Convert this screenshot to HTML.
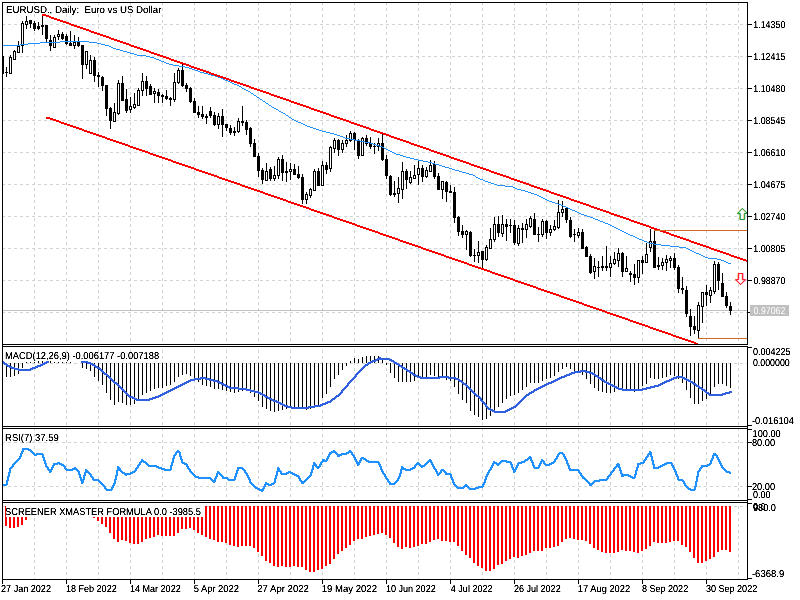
<!DOCTYPE html>
<html><head><meta charset="utf-8"><title>EURUSD Daily</title>
<style>html,body{margin:0;padding:0;background:#fff;overflow:hidden}svg{display:block}</style>
</head><body>
<svg width="800" height="600" viewBox="0 0 800 600" shape-rendering="crispEdges" font-family="'Liberation Sans', sans-serif">
<rect x="0" y="0" width="800" height="600" fill="#fff"/>
<g>
<line x1="34.5" y1="3" x2="34.5" y2="344" stroke="#d3d3d3" stroke-dasharray="3 3" stroke-dashoffset="1"/>
<line x1="66.5" y1="3" x2="66.5" y2="344" stroke="#d3d3d3" stroke-dasharray="3 3" stroke-dashoffset="1"/>
<line x1="98.5" y1="3" x2="98.5" y2="344" stroke="#d3d3d3" stroke-dasharray="3 3" stroke-dashoffset="1"/>
<line x1="130.5" y1="3" x2="130.5" y2="344" stroke="#d3d3d3" stroke-dasharray="3 3" stroke-dashoffset="1"/>
<line x1="162.5" y1="3" x2="162.5" y2="344" stroke="#d3d3d3" stroke-dasharray="3 3" stroke-dashoffset="1"/>
<line x1="194.5" y1="3" x2="194.5" y2="344" stroke="#d3d3d3" stroke-dasharray="3 3" stroke-dashoffset="1"/>
<line x1="226.5" y1="3" x2="226.5" y2="344" stroke="#d3d3d3" stroke-dasharray="3 3" stroke-dashoffset="1"/>
<line x1="258.5" y1="3" x2="258.5" y2="344" stroke="#d3d3d3" stroke-dasharray="3 3" stroke-dashoffset="1"/>
<line x1="290.5" y1="3" x2="290.5" y2="344" stroke="#d3d3d3" stroke-dasharray="3 3" stroke-dashoffset="1"/>
<line x1="322.5" y1="3" x2="322.5" y2="344" stroke="#d3d3d3" stroke-dasharray="3 3" stroke-dashoffset="1"/>
<line x1="354.5" y1="3" x2="354.5" y2="344" stroke="#d3d3d3" stroke-dasharray="3 3" stroke-dashoffset="1"/>
<line x1="386.5" y1="3" x2="386.5" y2="344" stroke="#d3d3d3" stroke-dasharray="3 3" stroke-dashoffset="1"/>
<line x1="418.5" y1="3" x2="418.5" y2="344" stroke="#d3d3d3" stroke-dasharray="3 3" stroke-dashoffset="1"/>
<line x1="450.5" y1="3" x2="450.5" y2="344" stroke="#d3d3d3" stroke-dasharray="3 3" stroke-dashoffset="1"/>
<line x1="482.5" y1="3" x2="482.5" y2="344" stroke="#d3d3d3" stroke-dasharray="3 3" stroke-dashoffset="1"/>
<line x1="514.5" y1="3" x2="514.5" y2="344" stroke="#d3d3d3" stroke-dasharray="3 3" stroke-dashoffset="1"/>
<line x1="546.5" y1="3" x2="546.5" y2="344" stroke="#d3d3d3" stroke-dasharray="3 3" stroke-dashoffset="1"/>
<line x1="578.5" y1="3" x2="578.5" y2="344" stroke="#d3d3d3" stroke-dasharray="3 3" stroke-dashoffset="1"/>
<line x1="610.5" y1="3" x2="610.5" y2="344" stroke="#d3d3d3" stroke-dasharray="3 3" stroke-dashoffset="1"/>
<line x1="642.5" y1="3" x2="642.5" y2="344" stroke="#d3d3d3" stroke-dasharray="3 3" stroke-dashoffset="1"/>
<line x1="674.5" y1="3" x2="674.5" y2="344" stroke="#d3d3d3" stroke-dasharray="3 3" stroke-dashoffset="1"/>
<line x1="706.5" y1="3" x2="706.5" y2="344" stroke="#d3d3d3" stroke-dasharray="3 3" stroke-dashoffset="1"/>
<line x1="738.5" y1="3" x2="738.5" y2="344" stroke="#d3d3d3" stroke-dasharray="3 3" stroke-dashoffset="1"/>
<line x1="34.5" y1="347" x2="34.5" y2="426" stroke="#d3d3d3" stroke-dasharray="3 3" stroke-dashoffset="3"/>
<line x1="66.5" y1="347" x2="66.5" y2="426" stroke="#d3d3d3" stroke-dasharray="3 3" stroke-dashoffset="3"/>
<line x1="98.5" y1="347" x2="98.5" y2="426" stroke="#d3d3d3" stroke-dasharray="3 3" stroke-dashoffset="3"/>
<line x1="130.5" y1="347" x2="130.5" y2="426" stroke="#d3d3d3" stroke-dasharray="3 3" stroke-dashoffset="3"/>
<line x1="162.5" y1="347" x2="162.5" y2="426" stroke="#d3d3d3" stroke-dasharray="3 3" stroke-dashoffset="3"/>
<line x1="194.5" y1="347" x2="194.5" y2="426" stroke="#d3d3d3" stroke-dasharray="3 3" stroke-dashoffset="3"/>
<line x1="226.5" y1="347" x2="226.5" y2="426" stroke="#d3d3d3" stroke-dasharray="3 3" stroke-dashoffset="3"/>
<line x1="258.5" y1="347" x2="258.5" y2="426" stroke="#d3d3d3" stroke-dasharray="3 3" stroke-dashoffset="3"/>
<line x1="290.5" y1="347" x2="290.5" y2="426" stroke="#d3d3d3" stroke-dasharray="3 3" stroke-dashoffset="3"/>
<line x1="322.5" y1="347" x2="322.5" y2="426" stroke="#d3d3d3" stroke-dasharray="3 3" stroke-dashoffset="3"/>
<line x1="354.5" y1="347" x2="354.5" y2="426" stroke="#d3d3d3" stroke-dasharray="3 3" stroke-dashoffset="3"/>
<line x1="386.5" y1="347" x2="386.5" y2="426" stroke="#d3d3d3" stroke-dasharray="3 3" stroke-dashoffset="3"/>
<line x1="418.5" y1="347" x2="418.5" y2="426" stroke="#d3d3d3" stroke-dasharray="3 3" stroke-dashoffset="3"/>
<line x1="450.5" y1="347" x2="450.5" y2="426" stroke="#d3d3d3" stroke-dasharray="3 3" stroke-dashoffset="3"/>
<line x1="482.5" y1="347" x2="482.5" y2="426" stroke="#d3d3d3" stroke-dasharray="3 3" stroke-dashoffset="3"/>
<line x1="514.5" y1="347" x2="514.5" y2="426" stroke="#d3d3d3" stroke-dasharray="3 3" stroke-dashoffset="3"/>
<line x1="546.5" y1="347" x2="546.5" y2="426" stroke="#d3d3d3" stroke-dasharray="3 3" stroke-dashoffset="3"/>
<line x1="578.5" y1="347" x2="578.5" y2="426" stroke="#d3d3d3" stroke-dasharray="3 3" stroke-dashoffset="3"/>
<line x1="610.5" y1="347" x2="610.5" y2="426" stroke="#d3d3d3" stroke-dasharray="3 3" stroke-dashoffset="3"/>
<line x1="642.5" y1="347" x2="642.5" y2="426" stroke="#d3d3d3" stroke-dasharray="3 3" stroke-dashoffset="3"/>
<line x1="674.5" y1="347" x2="674.5" y2="426" stroke="#d3d3d3" stroke-dasharray="3 3" stroke-dashoffset="3"/>
<line x1="706.5" y1="347" x2="706.5" y2="426" stroke="#d3d3d3" stroke-dasharray="3 3" stroke-dashoffset="3"/>
<line x1="738.5" y1="347" x2="738.5" y2="426" stroke="#d3d3d3" stroke-dasharray="3 3" stroke-dashoffset="3"/>
<line x1="34.5" y1="429" x2="34.5" y2="500" stroke="#d3d3d3" stroke-dasharray="3 3" stroke-dashoffset="1"/>
<line x1="66.5" y1="429" x2="66.5" y2="500" stroke="#d3d3d3" stroke-dasharray="3 3" stroke-dashoffset="1"/>
<line x1="98.5" y1="429" x2="98.5" y2="500" stroke="#d3d3d3" stroke-dasharray="3 3" stroke-dashoffset="1"/>
<line x1="130.5" y1="429" x2="130.5" y2="500" stroke="#d3d3d3" stroke-dasharray="3 3" stroke-dashoffset="1"/>
<line x1="162.5" y1="429" x2="162.5" y2="500" stroke="#d3d3d3" stroke-dasharray="3 3" stroke-dashoffset="1"/>
<line x1="194.5" y1="429" x2="194.5" y2="500" stroke="#d3d3d3" stroke-dasharray="3 3" stroke-dashoffset="1"/>
<line x1="226.5" y1="429" x2="226.5" y2="500" stroke="#d3d3d3" stroke-dasharray="3 3" stroke-dashoffset="1"/>
<line x1="258.5" y1="429" x2="258.5" y2="500" stroke="#d3d3d3" stroke-dasharray="3 3" stroke-dashoffset="1"/>
<line x1="290.5" y1="429" x2="290.5" y2="500" stroke="#d3d3d3" stroke-dasharray="3 3" stroke-dashoffset="1"/>
<line x1="322.5" y1="429" x2="322.5" y2="500" stroke="#d3d3d3" stroke-dasharray="3 3" stroke-dashoffset="1"/>
<line x1="354.5" y1="429" x2="354.5" y2="500" stroke="#d3d3d3" stroke-dasharray="3 3" stroke-dashoffset="1"/>
<line x1="386.5" y1="429" x2="386.5" y2="500" stroke="#d3d3d3" stroke-dasharray="3 3" stroke-dashoffset="1"/>
<line x1="418.5" y1="429" x2="418.5" y2="500" stroke="#d3d3d3" stroke-dasharray="3 3" stroke-dashoffset="1"/>
<line x1="450.5" y1="429" x2="450.5" y2="500" stroke="#d3d3d3" stroke-dasharray="3 3" stroke-dashoffset="1"/>
<line x1="482.5" y1="429" x2="482.5" y2="500" stroke="#d3d3d3" stroke-dasharray="3 3" stroke-dashoffset="1"/>
<line x1="514.5" y1="429" x2="514.5" y2="500" stroke="#d3d3d3" stroke-dasharray="3 3" stroke-dashoffset="1"/>
<line x1="546.5" y1="429" x2="546.5" y2="500" stroke="#d3d3d3" stroke-dasharray="3 3" stroke-dashoffset="1"/>
<line x1="578.5" y1="429" x2="578.5" y2="500" stroke="#d3d3d3" stroke-dasharray="3 3" stroke-dashoffset="1"/>
<line x1="610.5" y1="429" x2="610.5" y2="500" stroke="#d3d3d3" stroke-dasharray="3 3" stroke-dashoffset="1"/>
<line x1="642.5" y1="429" x2="642.5" y2="500" stroke="#d3d3d3" stroke-dasharray="3 3" stroke-dashoffset="1"/>
<line x1="674.5" y1="429" x2="674.5" y2="500" stroke="#d3d3d3" stroke-dasharray="3 3" stroke-dashoffset="1"/>
<line x1="706.5" y1="429" x2="706.5" y2="500" stroke="#d3d3d3" stroke-dasharray="3 3" stroke-dashoffset="1"/>
<line x1="738.5" y1="429" x2="738.5" y2="500" stroke="#d3d3d3" stroke-dasharray="3 3" stroke-dashoffset="1"/>
<line x1="34.5" y1="503" x2="34.5" y2="579" stroke="#d3d3d3" stroke-dasharray="3 3" stroke-dashoffset="3"/>
<line x1="66.5" y1="503" x2="66.5" y2="579" stroke="#d3d3d3" stroke-dasharray="3 3" stroke-dashoffset="3"/>
<line x1="98.5" y1="503" x2="98.5" y2="579" stroke="#d3d3d3" stroke-dasharray="3 3" stroke-dashoffset="3"/>
<line x1="130.5" y1="503" x2="130.5" y2="579" stroke="#d3d3d3" stroke-dasharray="3 3" stroke-dashoffset="3"/>
<line x1="162.5" y1="503" x2="162.5" y2="579" stroke="#d3d3d3" stroke-dasharray="3 3" stroke-dashoffset="3"/>
<line x1="194.5" y1="503" x2="194.5" y2="579" stroke="#d3d3d3" stroke-dasharray="3 3" stroke-dashoffset="3"/>
<line x1="226.5" y1="503" x2="226.5" y2="579" stroke="#d3d3d3" stroke-dasharray="3 3" stroke-dashoffset="3"/>
<line x1="258.5" y1="503" x2="258.5" y2="579" stroke="#d3d3d3" stroke-dasharray="3 3" stroke-dashoffset="3"/>
<line x1="290.5" y1="503" x2="290.5" y2="579" stroke="#d3d3d3" stroke-dasharray="3 3" stroke-dashoffset="3"/>
<line x1="322.5" y1="503" x2="322.5" y2="579" stroke="#d3d3d3" stroke-dasharray="3 3" stroke-dashoffset="3"/>
<line x1="354.5" y1="503" x2="354.5" y2="579" stroke="#d3d3d3" stroke-dasharray="3 3" stroke-dashoffset="3"/>
<line x1="386.5" y1="503" x2="386.5" y2="579" stroke="#d3d3d3" stroke-dasharray="3 3" stroke-dashoffset="3"/>
<line x1="418.5" y1="503" x2="418.5" y2="579" stroke="#d3d3d3" stroke-dasharray="3 3" stroke-dashoffset="3"/>
<line x1="450.5" y1="503" x2="450.5" y2="579" stroke="#d3d3d3" stroke-dasharray="3 3" stroke-dashoffset="3"/>
<line x1="482.5" y1="503" x2="482.5" y2="579" stroke="#d3d3d3" stroke-dasharray="3 3" stroke-dashoffset="3"/>
<line x1="514.5" y1="503" x2="514.5" y2="579" stroke="#d3d3d3" stroke-dasharray="3 3" stroke-dashoffset="3"/>
<line x1="546.5" y1="503" x2="546.5" y2="579" stroke="#d3d3d3" stroke-dasharray="3 3" stroke-dashoffset="3"/>
<line x1="578.5" y1="503" x2="578.5" y2="579" stroke="#d3d3d3" stroke-dasharray="3 3" stroke-dashoffset="3"/>
<line x1="610.5" y1="503" x2="610.5" y2="579" stroke="#d3d3d3" stroke-dasharray="3 3" stroke-dashoffset="3"/>
<line x1="642.5" y1="503" x2="642.5" y2="579" stroke="#d3d3d3" stroke-dasharray="3 3" stroke-dashoffset="3"/>
<line x1="674.5" y1="503" x2="674.5" y2="579" stroke="#d3d3d3" stroke-dasharray="3 3" stroke-dashoffset="3"/>
<line x1="706.5" y1="503" x2="706.5" y2="579" stroke="#d3d3d3" stroke-dasharray="3 3" stroke-dashoffset="3"/>
<line x1="738.5" y1="503" x2="738.5" y2="579" stroke="#d3d3d3" stroke-dasharray="3 3" stroke-dashoffset="3"/>
<line x1="2" y1="24.5" x2="747" y2="24.5" stroke="#d3d3d3" stroke-dasharray="3 3" stroke-dashoffset="0"/>
<line x1="2" y1="56.5" x2="747" y2="56.5" stroke="#d3d3d3" stroke-dasharray="3 3" stroke-dashoffset="0"/>
<line x1="2" y1="88.5" x2="747" y2="88.5" stroke="#d3d3d3" stroke-dasharray="3 3" stroke-dashoffset="0"/>
<line x1="2" y1="120.5" x2="747" y2="120.5" stroke="#d3d3d3" stroke-dasharray="3 3" stroke-dashoffset="0"/>
<line x1="2" y1="152.5" x2="747" y2="152.5" stroke="#d3d3d3" stroke-dasharray="3 3" stroke-dashoffset="0"/>
<line x1="2" y1="184.5" x2="747" y2="184.5" stroke="#d3d3d3" stroke-dasharray="3 3" stroke-dashoffset="0"/>
<line x1="2" y1="216.5" x2="747" y2="216.5" stroke="#d3d3d3" stroke-dasharray="3 3" stroke-dashoffset="0"/>
<line x1="2" y1="248.5" x2="747" y2="248.5" stroke="#d3d3d3" stroke-dasharray="3 3" stroke-dashoffset="0"/>
<line x1="2" y1="280.5" x2="747" y2="280.5" stroke="#d3d3d3" stroke-dasharray="3 3" stroke-dashoffset="0"/>
<line x1="2" y1="312.5" x2="747" y2="312.5" stroke="#d3d3d3" stroke-dasharray="3 3" stroke-dashoffset="0"/>
<line x1="2" y1="363.5" x2="747" y2="363.5" stroke="#d3d3d3" stroke-dasharray="3 3" stroke-dashoffset="0"/>
<line x1="2" y1="442.5" x2="747" y2="442.5" stroke="#d3d3d3" stroke-dasharray="3 3" stroke-dashoffset="0"/>
<line x1="2" y1="486.5" x2="747" y2="486.5" stroke="#d3d3d3" stroke-dasharray="3 3" stroke-dashoffset="0"/>
<line x1="2" y1="506.5" x2="747" y2="506.5" stroke="#d3d3d3" stroke-dasharray="3 3" stroke-dashoffset="0"/>
</g>
<line x1="3" y1="310.5" x2="747" y2="310.5" stroke="#c0c0c0"/>
<g fill="#000">
<rect x="2" y="56" width="1" height="18"/>
<rect x="2" y="56" width="2" height="18"/>
<rect x="6" y="67" width="1" height="10"/>
<rect x="5" y="72" width="3" height="1"/>
<rect x="10" y="55" width="1" height="19"/>
<rect x="9" y="57" width="3" height="17"/>
<rect x="10" y="58" width="1" height="15" fill="#fff"/>
<rect x="14" y="50" width="1" height="10"/>
<rect x="13" y="51" width="3" height="9"/>
<rect x="14" y="52" width="1" height="7" fill="#fff"/>
<rect x="18" y="41" width="1" height="12"/>
<rect x="17" y="46" width="3" height="7"/>
<rect x="18" y="47" width="1" height="5" fill="#fff"/>
<rect x="22" y="21" width="1" height="32"/>
<rect x="21" y="23" width="3" height="23"/>
<rect x="22" y="24" width="1" height="21" fill="#fff"/>
<rect x="26" y="16" width="1" height="13"/>
<rect x="25" y="21" width="3" height="4"/>
<rect x="26" y="22" width="1" height="2" fill="#fff"/>
<rect x="30" y="20" width="1" height="8"/>
<rect x="29" y="20" width="3" height="4"/>
<rect x="34" y="21" width="1" height="10"/>
<rect x="33" y="23" width="3" height="6"/>
<rect x="38" y="22" width="1" height="8"/>
<rect x="37" y="26" width="3" height="3"/>
<rect x="42" y="14" width="1" height="21"/>
<rect x="41" y="25" width="3" height="2"/>
<rect x="46" y="25" width="1" height="18"/>
<rect x="45" y="25" width="3" height="14"/>
<rect x="50" y="35" width="1" height="16"/>
<rect x="49" y="40" width="3" height="6"/>
<rect x="54" y="35" width="1" height="13"/>
<rect x="53" y="37" width="3" height="11"/>
<rect x="54" y="38" width="1" height="9" fill="#fff"/>
<rect x="58" y="30" width="1" height="10"/>
<rect x="57" y="34" width="3" height="3"/>
<rect x="58" y="35" width="1" height="1" fill="#fff"/>
<rect x="62" y="32" width="1" height="8"/>
<rect x="61" y="34" width="3" height="5"/>
<rect x="66" y="34" width="1" height="11"/>
<rect x="65" y="36" width="3" height="8"/>
<rect x="70" y="31" width="1" height="15"/>
<rect x="69" y="43" width="3" height="3"/>
<rect x="74" y="35" width="1" height="14"/>
<rect x="73" y="42" width="3" height="4"/>
<rect x="74" y="43" width="1" height="2" fill="#fff"/>
<rect x="78" y="37" width="1" height="10"/>
<rect x="77" y="42" width="3" height="4"/>
<rect x="82" y="45" width="1" height="34"/>
<rect x="81" y="45" width="3" height="20"/>
<rect x="86" y="51" width="1" height="18"/>
<rect x="85" y="51" width="3" height="14"/>
<rect x="86" y="52" width="1" height="12" fill="#fff"/>
<rect x="90" y="55" width="1" height="19"/>
<rect x="89" y="60" width="3" height="14"/>
<rect x="90" y="61" width="1" height="12" fill="#fff"/>
<rect x="94" y="57" width="1" height="25"/>
<rect x="93" y="60" width="3" height="16"/>
<rect x="98" y="72" width="1" height="15"/>
<rect x="97" y="75" width="3" height="2"/>
<rect x="102" y="76" width="1" height="15"/>
<rect x="101" y="77" width="3" height="9"/>
<rect x="106" y="85" width="1" height="31"/>
<rect x="105" y="85" width="3" height="24"/>
<rect x="110" y="107" width="1" height="22"/>
<rect x="109" y="108" width="3" height="13"/>
<rect x="114" y="103" width="1" height="19"/>
<rect x="113" y="112" width="3" height="10"/>
<rect x="114" y="113" width="1" height="8" fill="#fff"/>
<rect x="118" y="80" width="1" height="35"/>
<rect x="117" y="83" width="3" height="31"/>
<rect x="118" y="84" width="1" height="29" fill="#fff"/>
<rect x="122" y="76" width="1" height="25"/>
<rect x="121" y="83" width="3" height="18"/>
<rect x="126" y="89" width="1" height="24"/>
<rect x="125" y="99" width="3" height="12"/>
<rect x="130" y="97" width="1" height="16"/>
<rect x="129" y="106" width="3" height="4"/>
<rect x="130" y="107" width="1" height="2" fill="#fff"/>
<rect x="134" y="93" width="1" height="16"/>
<rect x="133" y="104" width="3" height="4"/>
<rect x="134" y="105" width="1" height="2" fill="#fff"/>
<rect x="138" y="88" width="1" height="18"/>
<rect x="137" y="90" width="3" height="16"/>
<rect x="138" y="91" width="1" height="14" fill="#fff"/>
<rect x="142" y="73" width="1" height="23"/>
<rect x="141" y="81" width="3" height="10"/>
<rect x="142" y="82" width="1" height="8" fill="#fff"/>
<rect x="146" y="76" width="1" height="20"/>
<rect x="145" y="81" width="3" height="8"/>
<rect x="150" y="84" width="1" height="11"/>
<rect x="149" y="86" width="3" height="9"/>
<rect x="154" y="88" width="1" height="15"/>
<rect x="153" y="91" width="3" height="3"/>
<rect x="154" y="92" width="1" height="1" fill="#fff"/>
<rect x="158" y="89" width="1" height="14"/>
<rect x="157" y="92" width="3" height="4"/>
<rect x="162" y="94" width="1" height="9"/>
<rect x="161" y="95" width="3" height="2"/>
<rect x="166" y="90" width="1" height="10"/>
<rect x="165" y="96" width="3" height="3"/>
<rect x="170" y="97" width="1" height="9"/>
<rect x="169" y="98" width="3" height="2"/>
<rect x="174" y="73" width="1" height="29"/>
<rect x="173" y="82" width="3" height="18"/>
<rect x="174" y="83" width="1" height="16" fill="#fff"/>
<rect x="178" y="68" width="1" height="16"/>
<rect x="177" y="70" width="3" height="13"/>
<rect x="178" y="71" width="1" height="11" fill="#fff"/>
<rect x="182" y="64" width="1" height="23"/>
<rect x="181" y="70" width="3" height="16"/>
<rect x="186" y="83" width="1" height="9"/>
<rect x="185" y="85" width="3" height="4"/>
<rect x="190" y="87" width="1" height="16"/>
<rect x="189" y="88" width="3" height="14"/>
<rect x="194" y="98" width="1" height="15"/>
<rect x="193" y="101" width="3" height="12"/>
<rect x="198" y="106" width="1" height="12"/>
<rect x="197" y="112" width="3" height="3"/>
<rect x="202" y="106" width="1" height="13"/>
<rect x="201" y="114" width="3" height="3"/>
<rect x="206" y="114" width="1" height="10"/>
<rect x="205" y="116" width="3" height="2"/>
<rect x="210" y="107" width="1" height="11"/>
<rect x="209" y="111" width="3" height="5"/>
<rect x="214" y="112" width="1" height="14"/>
<rect x="213" y="115" width="3" height="10"/>
<rect x="218" y="113" width="1" height="16"/>
<rect x="217" y="116" width="3" height="9"/>
<rect x="218" y="117" width="1" height="7" fill="#fff"/>
<rect x="222" y="109" width="1" height="28"/>
<rect x="221" y="116" width="3" height="9"/>
<rect x="226" y="124" width="1" height="7"/>
<rect x="225" y="124" width="3" height="4"/>
<rect x="230" y="125" width="1" height="10"/>
<rect x="229" y="128" width="3" height="5"/>
<rect x="234" y="127" width="1" height="9"/>
<rect x="233" y="131" width="3" height="2"/>
<rect x="238" y="118" width="1" height="15"/>
<rect x="237" y="121" width="3" height="11"/>
<rect x="238" y="122" width="1" height="9" fill="#fff"/>
<rect x="242" y="106" width="1" height="20"/>
<rect x="241" y="121" width="3" height="2"/>
<rect x="246" y="120" width="1" height="15"/>
<rect x="245" y="122" width="3" height="8"/>
<rect x="250" y="127" width="1" height="20"/>
<rect x="249" y="128" width="3" height="16"/>
<rect x="254" y="139" width="1" height="18"/>
<rect x="253" y="143" width="3" height="14"/>
<rect x="258" y="153" width="1" height="24"/>
<rect x="257" y="156" width="3" height="15"/>
<rect x="262" y="168" width="1" height="16"/>
<rect x="261" y="170" width="3" height="10"/>
<rect x="266" y="163" width="1" height="18"/>
<rect x="265" y="171" width="3" height="10"/>
<rect x="266" y="172" width="1" height="8" fill="#fff"/>
<rect x="270" y="167" width="1" height="14"/>
<rect x="269" y="169" width="3" height="10"/>
<rect x="274" y="166" width="1" height="15"/>
<rect x="273" y="175" width="3" height="4"/>
<rect x="274" y="176" width="1" height="2" fill="#fff"/>
<rect x="278" y="157" width="1" height="22"/>
<rect x="277" y="159" width="3" height="17"/>
<rect x="278" y="160" width="1" height="15" fill="#fff"/>
<rect x="282" y="155" width="1" height="26"/>
<rect x="281" y="159" width="3" height="14"/>
<rect x="286" y="162" width="1" height="20"/>
<rect x="285" y="171" width="3" height="2"/>
<rect x="290" y="163" width="1" height="17"/>
<rect x="289" y="169" width="3" height="3"/>
<rect x="290" y="170" width="1" height="1" fill="#fff"/>
<rect x="294" y="164" width="1" height="11"/>
<rect x="293" y="169" width="3" height="6"/>
<rect x="298" y="166" width="1" height="13"/>
<rect x="297" y="174" width="3" height="4"/>
<rect x="302" y="174" width="1" height="30"/>
<rect x="301" y="177" width="3" height="23"/>
<rect x="306" y="192" width="1" height="12"/>
<rect x="305" y="194" width="3" height="6"/>
<rect x="306" y="195" width="1" height="4" fill="#fff"/>
<rect x="310" y="188" width="1" height="10"/>
<rect x="309" y="189" width="3" height="7"/>
<rect x="310" y="190" width="1" height="5" fill="#fff"/>
<rect x="314" y="169" width="1" height="22"/>
<rect x="313" y="171" width="3" height="20"/>
<rect x="314" y="172" width="1" height="18" fill="#fff"/>
<rect x="318" y="168" width="1" height="18"/>
<rect x="317" y="171" width="3" height="15"/>
<rect x="322" y="161" width="1" height="25"/>
<rect x="321" y="165" width="3" height="21"/>
<rect x="322" y="166" width="1" height="19" fill="#fff"/>
<rect x="326" y="162" width="1" height="12"/>
<rect x="325" y="165" width="3" height="5"/>
<rect x="330" y="146" width="1" height="26"/>
<rect x="329" y="147" width="3" height="22"/>
<rect x="330" y="148" width="1" height="20" fill="#fff"/>
<rect x="334" y="138" width="1" height="15"/>
<rect x="333" y="140" width="3" height="9"/>
<rect x="334" y="141" width="1" height="7" fill="#fff"/>
<rect x="338" y="139" width="1" height="17"/>
<rect x="337" y="140" width="3" height="10"/>
<rect x="342" y="140" width="1" height="13"/>
<rect x="341" y="143" width="3" height="7"/>
<rect x="342" y="144" width="1" height="5" fill="#fff"/>
<rect x="346" y="135" width="1" height="12"/>
<rect x="345" y="140" width="3" height="4"/>
<rect x="346" y="141" width="1" height="2" fill="#fff"/>
<rect x="350" y="131" width="1" height="11"/>
<rect x="349" y="133" width="3" height="8"/>
<rect x="350" y="134" width="1" height="6" fill="#fff"/>
<rect x="354" y="132" width="1" height="18"/>
<rect x="353" y="133" width="3" height="7"/>
<rect x="358" y="139" width="1" height="20"/>
<rect x="357" y="140" width="3" height="16"/>
<rect x="362" y="137" width="1" height="19"/>
<rect x="361" y="138" width="3" height="18"/>
<rect x="362" y="139" width="1" height="16" fill="#fff"/>
<rect x="366" y="135" width="1" height="11"/>
<rect x="365" y="138" width="3" height="6"/>
<rect x="370" y="137" width="1" height="12"/>
<rect x="369" y="143" width="3" height="4"/>
<rect x="374" y="143" width="1" height="11"/>
<rect x="373" y="146" width="3" height="1"/>
<rect x="378" y="138" width="1" height="13"/>
<rect x="377" y="143" width="3" height="4"/>
<rect x="378" y="144" width="1" height="2" fill="#fff"/>
<rect x="382" y="134" width="1" height="27"/>
<rect x="381" y="143" width="3" height="17"/>
<rect x="386" y="155" width="1" height="24"/>
<rect x="385" y="159" width="3" height="17"/>
<rect x="390" y="175" width="1" height="21"/>
<rect x="389" y="176" width="3" height="19"/>
<rect x="394" y="181" width="1" height="16"/>
<rect x="393" y="193" width="3" height="2"/>
<rect x="398" y="177" width="1" height="26"/>
<rect x="397" y="188" width="3" height="6"/>
<rect x="398" y="189" width="1" height="4" fill="#fff"/>
<rect x="402" y="162" width="1" height="37"/>
<rect x="401" y="171" width="3" height="19"/>
<rect x="402" y="172" width="1" height="17" fill="#fff"/>
<rect x="406" y="169" width="1" height="20"/>
<rect x="405" y="171" width="3" height="9"/>
<rect x="410" y="171" width="1" height="13"/>
<rect x="409" y="177" width="3" height="6"/>
<rect x="410" y="178" width="1" height="4" fill="#fff"/>
<rect x="414" y="165" width="1" height="14"/>
<rect x="413" y="175" width="3" height="4"/>
<rect x="414" y="176" width="1" height="2" fill="#fff"/>
<rect x="418" y="160" width="1" height="25"/>
<rect x="417" y="168" width="3" height="7"/>
<rect x="418" y="169" width="1" height="5" fill="#fff"/>
<rect x="422" y="165" width="1" height="17"/>
<rect x="421" y="168" width="3" height="9"/>
<rect x="426" y="167" width="1" height="11"/>
<rect x="425" y="170" width="3" height="7"/>
<rect x="426" y="171" width="1" height="5" fill="#fff"/>
<rect x="430" y="160" width="1" height="12"/>
<rect x="429" y="165" width="3" height="7"/>
<rect x="430" y="166" width="1" height="5" fill="#fff"/>
<rect x="434" y="161" width="1" height="18"/>
<rect x="433" y="164" width="3" height="13"/>
<rect x="438" y="173" width="1" height="17"/>
<rect x="437" y="176" width="3" height="14"/>
<rect x="442" y="181" width="1" height="18"/>
<rect x="441" y="181" width="3" height="9"/>
<rect x="442" y="182" width="1" height="7" fill="#fff"/>
<rect x="446" y="181" width="1" height="21"/>
<rect x="445" y="182" width="3" height="10"/>
<rect x="450" y="185" width="1" height="8"/>
<rect x="449" y="191" width="3" height="2"/>
<rect x="454" y="187" width="1" height="36"/>
<rect x="453" y="192" width="3" height="26"/>
<rect x="458" y="216" width="1" height="20"/>
<rect x="457" y="217" width="3" height="15"/>
<rect x="462" y="225" width="1" height="13"/>
<rect x="461" y="231" width="3" height="4"/>
<rect x="466" y="230" width="1" height="20"/>
<rect x="465" y="231" width="3" height="4"/>
<rect x="466" y="232" width="1" height="2" fill="#fff"/>
<rect x="470" y="231" width="1" height="26"/>
<rect x="469" y="232" width="3" height="24"/>
<rect x="474" y="249" width="1" height="13"/>
<rect x="473" y="255" width="3" height="1"/>
<rect x="478" y="241" width="1" height="22"/>
<rect x="477" y="252" width="3" height="4"/>
<rect x="478" y="253" width="1" height="2" fill="#fff"/>
<rect x="482" y="251" width="1" height="18"/>
<rect x="481" y="251" width="3" height="9"/>
<rect x="486" y="245" width="1" height="16"/>
<rect x="485" y="247" width="3" height="13"/>
<rect x="486" y="248" width="1" height="11" fill="#fff"/>
<rect x="490" y="228" width="1" height="21"/>
<rect x="489" y="239" width="3" height="10"/>
<rect x="490" y="240" width="1" height="8" fill="#fff"/>
<rect x="494" y="217" width="1" height="25"/>
<rect x="493" y="224" width="3" height="16"/>
<rect x="494" y="225" width="1" height="14" fill="#fff"/>
<rect x="498" y="216" width="1" height="21"/>
<rect x="497" y="224" width="3" height="9"/>
<rect x="502" y="215" width="1" height="22"/>
<rect x="501" y="224" width="3" height="10"/>
<rect x="502" y="225" width="1" height="8" fill="#fff"/>
<rect x="506" y="219" width="1" height="22"/>
<rect x="505" y="224" width="3" height="3"/>
<rect x="510" y="219" width="1" height="14"/>
<rect x="509" y="225" width="3" height="1"/>
<rect x="514" y="220" width="1" height="25"/>
<rect x="513" y="225" width="3" height="18"/>
<rect x="518" y="225" width="1" height="21"/>
<rect x="517" y="228" width="3" height="16"/>
<rect x="518" y="229" width="1" height="14" fill="#fff"/>
<rect x="522" y="223" width="1" height="20"/>
<rect x="521" y="228" width="3" height="2"/>
<rect x="526" y="219" width="1" height="19"/>
<rect x="525" y="224" width="3" height="6"/>
<rect x="526" y="225" width="1" height="4" fill="#fff"/>
<rect x="530" y="216" width="1" height="12"/>
<rect x="529" y="218" width="3" height="9"/>
<rect x="530" y="219" width="1" height="7" fill="#fff"/>
<rect x="534" y="213" width="1" height="22"/>
<rect x="533" y="219" width="3" height="16"/>
<rect x="538" y="227" width="1" height="15"/>
<rect x="537" y="234" width="3" height="1"/>
<rect x="542" y="219" width="1" height="18"/>
<rect x="541" y="221" width="3" height="14"/>
<rect x="542" y="222" width="1" height="12" fill="#fff"/>
<rect x="546" y="220" width="1" height="19"/>
<rect x="545" y="221" width="3" height="12"/>
<rect x="550" y="225" width="1" height="11"/>
<rect x="549" y="229" width="3" height="4"/>
<rect x="550" y="230" width="1" height="2" fill="#fff"/>
<rect x="554" y="220" width="1" height="11"/>
<rect x="553" y="226" width="3" height="4"/>
<rect x="554" y="227" width="1" height="2" fill="#fff"/>
<rect x="558" y="200" width="1" height="29"/>
<rect x="557" y="212" width="3" height="16"/>
<rect x="558" y="213" width="1" height="14" fill="#fff"/>
<rect x="562" y="201" width="1" height="16"/>
<rect x="561" y="209" width="3" height="4"/>
<rect x="562" y="210" width="1" height="2" fill="#fff"/>
<rect x="566" y="207" width="1" height="16"/>
<rect x="565" y="208" width="3" height="12"/>
<rect x="570" y="217" width="1" height="21"/>
<rect x="569" y="220" width="3" height="17"/>
<rect x="574" y="229" width="1" height="13"/>
<rect x="573" y="234" width="3" height="1"/>
<rect x="578" y="228" width="1" height="10"/>
<rect x="577" y="232" width="3" height="4"/>
<rect x="578" y="233" width="1" height="2" fill="#fff"/>
<rect x="582" y="229" width="1" height="20"/>
<rect x="581" y="232" width="3" height="17"/>
<rect x="586" y="246" width="1" height="11"/>
<rect x="585" y="247" width="3" height="10"/>
<rect x="590" y="254" width="1" height="20"/>
<rect x="589" y="256" width="3" height="17"/>
<rect x="594" y="258" width="1" height="21"/>
<rect x="593" y="266" width="3" height="6"/>
<rect x="594" y="267" width="1" height="4" fill="#fff"/>
<rect x="598" y="261" width="1" height="16"/>
<rect x="597" y="267" width="3" height="1"/>
<rect x="602" y="256" width="1" height="15"/>
<rect x="601" y="266" width="3" height="2"/>
<rect x="606" y="246" width="1" height="25"/>
<rect x="605" y="266" width="3" height="2"/>
<rect x="610" y="256" width="1" height="21"/>
<rect x="609" y="263" width="3" height="5"/>
<rect x="610" y="264" width="1" height="3" fill="#fff"/>
<rect x="614" y="252" width="1" height="13"/>
<rect x="613" y="259" width="3" height="5"/>
<rect x="614" y="260" width="1" height="3" fill="#fff"/>
<rect x="618" y="248" width="1" height="19"/>
<rect x="617" y="253" width="3" height="8"/>
<rect x="618" y="254" width="1" height="6" fill="#fff"/>
<rect x="622" y="252" width="1" height="25"/>
<rect x="621" y="253" width="3" height="19"/>
<rect x="626" y="256" width="1" height="16"/>
<rect x="625" y="268" width="3" height="4"/>
<rect x="626" y="269" width="1" height="2" fill="#fff"/>
<rect x="630" y="271" width="1" height="11"/>
<rect x="629" y="273" width="3" height="2"/>
<rect x="634" y="264" width="1" height="21"/>
<rect x="633" y="274" width="3" height="4"/>
<rect x="638" y="260" width="1" height="23"/>
<rect x="637" y="260" width="3" height="18"/>
<rect x="638" y="261" width="1" height="16" fill="#fff"/>
<rect x="642" y="256" width="1" height="18"/>
<rect x="641" y="260" width="3" height="3"/>
<rect x="646" y="243" width="1" height="20"/>
<rect x="645" y="254" width="3" height="9"/>
<rect x="646" y="255" width="1" height="7" fill="#fff"/>
<rect x="650" y="229" width="1" height="23"/>
<rect x="649" y="241" width="3" height="7"/>
<rect x="650" y="242" width="1" height="5" fill="#fff"/>
<rect x="654" y="230" width="1" height="38"/>
<rect x="653" y="241" width="3" height="27"/>
<rect x="658" y="257" width="1" height="13"/>
<rect x="657" y="265" width="3" height="2"/>
<rect x="662" y="258" width="1" height="12"/>
<rect x="661" y="262" width="3" height="4"/>
<rect x="662" y="263" width="1" height="2" fill="#fff"/>
<rect x="666" y="255" width="1" height="16"/>
<rect x="665" y="259" width="3" height="4"/>
<rect x="666" y="260" width="1" height="2" fill="#fff"/>
<rect x="670" y="256" width="1" height="12"/>
<rect x="669" y="258" width="3" height="3"/>
<rect x="670" y="259" width="1" height="1" fill="#fff"/>
<rect x="674" y="253" width="1" height="17"/>
<rect x="673" y="258" width="3" height="10"/>
<rect x="678" y="265" width="1" height="28"/>
<rect x="677" y="267" width="3" height="22"/>
<rect x="682" y="277" width="1" height="17"/>
<rect x="681" y="288" width="3" height="2"/>
<rect x="686" y="286" width="1" height="31"/>
<rect x="685" y="290" width="3" height="24"/>
<rect x="690" y="309" width="1" height="27"/>
<rect x="689" y="316" width="3" height="11"/>
<rect x="694" y="316" width="1" height="18"/>
<rect x="693" y="326" width="3" height="4"/>
<rect x="698" y="302" width="1" height="37"/>
<rect x="697" y="305" width="3" height="26"/>
<rect x="698" y="306" width="1" height="24" fill="#fff"/>
<rect x="702" y="292" width="1" height="31"/>
<rect x="701" y="292" width="3" height="15"/>
<rect x="702" y="293" width="1" height="13" fill="#fff"/>
<rect x="706" y="285" width="1" height="21"/>
<rect x="705" y="292" width="3" height="3"/>
<rect x="710" y="287" width="1" height="16"/>
<rect x="709" y="290" width="3" height="6"/>
<rect x="710" y="291" width="1" height="4" fill="#fff"/>
<rect x="714" y="261" width="1" height="33"/>
<rect x="713" y="264" width="3" height="28"/>
<rect x="714" y="265" width="1" height="26" fill="#fff"/>
<rect x="718" y="262" width="1" height="28"/>
<rect x="717" y="264" width="3" height="17"/>
<rect x="722" y="273" width="1" height="24"/>
<rect x="721" y="283" width="3" height="14"/>
<rect x="726" y="292" width="1" height="16"/>
<rect x="725" y="296" width="3" height="10"/>
<rect x="730" y="302" width="1" height="13"/>
<rect x="729" y="306" width="3" height="5"/>
</g>
<g fill="#1e90ff">
<rect x="3" y="45" width="17" height="1"/>
<rect x="20" y="44" width="8" height="1"/>
<rect x="28" y="43" width="12" height="1"/>
<rect x="40" y="42" width="20" height="1"/>
<rect x="60" y="41" width="29" height="1"/>
<rect x="89" y="42" width="8" height="1"/>
<rect x="97" y="43" width="4" height="1"/>
<rect x="101" y="44" width="4" height="1"/>
<rect x="105" y="45" width="4" height="1"/>
<rect x="109" y="46" width="2" height="1"/>
<rect x="111" y="47" width="2" height="1"/>
<rect x="113" y="48" width="3" height="1"/>
<rect x="116" y="49" width="4" height="1"/>
<rect x="120" y="50" width="3" height="1"/>
<rect x="123" y="51" width="4" height="1"/>
<rect x="127" y="52" width="3" height="1"/>
<rect x="130" y="53" width="4" height="1"/>
<rect x="134" y="54" width="3" height="1"/>
<rect x="137" y="55" width="9" height="1"/>
<rect x="146" y="56" width="4" height="1"/>
<rect x="150" y="57" width="4" height="1"/>
<rect x="154" y="58" width="2" height="1"/>
<rect x="156" y="59" width="3" height="1"/>
<rect x="159" y="60" width="2" height="1"/>
<rect x="161" y="61" width="3" height="1"/>
<rect x="164" y="62" width="2" height="1"/>
<rect x="166" y="63" width="3" height="1"/>
<rect x="169" y="64" width="4" height="1"/>
<rect x="173" y="65" width="6" height="1"/>
<rect x="179" y="66" width="6" height="1"/>
<rect x="185" y="67" width="4" height="1"/>
<rect x="189" y="68" width="3" height="1"/>
<rect x="192" y="69" width="3" height="1"/>
<rect x="195" y="70" width="3" height="1"/>
<rect x="198" y="71" width="2" height="1"/>
<rect x="200" y="72" width="4" height="1"/>
<rect x="204" y="73" width="4" height="1"/>
<rect x="208" y="74" width="3" height="1"/>
<rect x="211" y="75" width="4" height="1"/>
<rect x="215" y="76" width="3" height="1"/>
<rect x="218" y="77" width="3" height="1"/>
<rect x="221" y="78" width="2" height="1"/>
<rect x="223" y="79" width="2" height="1"/>
<rect x="225" y="80" width="3" height="1"/>
<rect x="228" y="81" width="2" height="1"/>
<rect x="230" y="82" width="2" height="1"/>
<rect x="232" y="83" width="2" height="1"/>
<rect x="234" y="84" width="3" height="1"/>
<rect x="237" y="85" width="2" height="1"/>
<rect x="239" y="86" width="2" height="1"/>
<rect x="241" y="87" width="1" height="1"/>
<rect x="242" y="88" width="2" height="1"/>
<rect x="244" y="89" width="2" height="1"/>
<rect x="246" y="90" width="2" height="1"/>
<rect x="248" y="91" width="2" height="1"/>
<rect x="250" y="92" width="1" height="1"/>
<rect x="251" y="93" width="2" height="1"/>
<rect x="253" y="94" width="1" height="1"/>
<rect x="254" y="95" width="2" height="1"/>
<rect x="256" y="96" width="1" height="1"/>
<rect x="257" y="97" width="2" height="1"/>
<rect x="259" y="98" width="1" height="1"/>
<rect x="260" y="99" width="2" height="1"/>
<rect x="262" y="100" width="1" height="1"/>
<rect x="263" y="101" width="2" height="1"/>
<rect x="265" y="102" width="1" height="1"/>
<rect x="266" y="103" width="2" height="1"/>
<rect x="268" y="104" width="1" height="1"/>
<rect x="269" y="105" width="2" height="1"/>
<rect x="271" y="106" width="1" height="1"/>
<rect x="272" y="107" width="2" height="1"/>
<rect x="274" y="108" width="2" height="1"/>
<rect x="276" y="109" width="2" height="1"/>
<rect x="278" y="110" width="1" height="1"/>
<rect x="279" y="111" width="2" height="1"/>
<rect x="281" y="112" width="2" height="1"/>
<rect x="283" y="113" width="2" height="1"/>
<rect x="285" y="114" width="1" height="1"/>
<rect x="286" y="115" width="2" height="1"/>
<rect x="288" y="116" width="1" height="1"/>
<rect x="289" y="117" width="2" height="1"/>
<rect x="291" y="118" width="1" height="1"/>
<rect x="292" y="119" width="2" height="1"/>
<rect x="294" y="120" width="2" height="1"/>
<rect x="296" y="121" width="2" height="1"/>
<rect x="298" y="122" width="3" height="1"/>
<rect x="301" y="123" width="2" height="1"/>
<rect x="303" y="124" width="2" height="1"/>
<rect x="305" y="125" width="2" height="1"/>
<rect x="307" y="126" width="3" height="1"/>
<rect x="310" y="127" width="3" height="1"/>
<rect x="313" y="128" width="3" height="1"/>
<rect x="316" y="129" width="3" height="1"/>
<rect x="319" y="130" width="3" height="1"/>
<rect x="322" y="131" width="4" height="1"/>
<rect x="326" y="132" width="4" height="1"/>
<rect x="330" y="133" width="4" height="1"/>
<rect x="334" y="134" width="3" height="1"/>
<rect x="337" y="135" width="3" height="1"/>
<rect x="340" y="136" width="3" height="1"/>
<rect x="343" y="137" width="2" height="1"/>
<rect x="345" y="138" width="5" height="1"/>
<rect x="350" y="139" width="5" height="1"/>
<rect x="355" y="140" width="5" height="1"/>
<rect x="360" y="141" width="5" height="1"/>
<rect x="365" y="142" width="5" height="1"/>
<rect x="370" y="143" width="3" height="1"/>
<rect x="373" y="144" width="3" height="1"/>
<rect x="376" y="145" width="3" height="1"/>
<rect x="379" y="146" width="3" height="1"/>
<rect x="382" y="147" width="2" height="1"/>
<rect x="384" y="148" width="2" height="1"/>
<rect x="386" y="149" width="2" height="1"/>
<rect x="388" y="150" width="2" height="1"/>
<rect x="390" y="151" width="2" height="1"/>
<rect x="392" y="152" width="2" height="1"/>
<rect x="394" y="153" width="2" height="1"/>
<rect x="396" y="154" width="4" height="1"/>
<rect x="400" y="155" width="3" height="1"/>
<rect x="403" y="156" width="3" height="1"/>
<rect x="406" y="157" width="4" height="1"/>
<rect x="410" y="158" width="4" height="1"/>
<rect x="414" y="159" width="4" height="1"/>
<rect x="418" y="160" width="5" height="1"/>
<rect x="423" y="161" width="5" height="1"/>
<rect x="428" y="162" width="4" height="1"/>
<rect x="432" y="163" width="3" height="1"/>
<rect x="435" y="164" width="4" height="1"/>
<rect x="439" y="165" width="3" height="1"/>
<rect x="442" y="166" width="3" height="1"/>
<rect x="445" y="167" width="4" height="1"/>
<rect x="449" y="168" width="3" height="1"/>
<rect x="452" y="169" width="3" height="1"/>
<rect x="455" y="170" width="4" height="1"/>
<rect x="459" y="171" width="3" height="1"/>
<rect x="462" y="172" width="4" height="1"/>
<rect x="466" y="173" width="3" height="1"/>
<rect x="469" y="174" width="4" height="1"/>
<rect x="473" y="175" width="2" height="1"/>
<rect x="475" y="176" width="1" height="1"/>
<rect x="476" y="177" width="2" height="1"/>
<rect x="478" y="178" width="2" height="1"/>
<rect x="480" y="179" width="3" height="1"/>
<rect x="483" y="180" width="2" height="1"/>
<rect x="485" y="181" width="3" height="1"/>
<rect x="488" y="182" width="3" height="1"/>
<rect x="491" y="183" width="3" height="1"/>
<rect x="494" y="184" width="3" height="1"/>
<rect x="497" y="185" width="8" height="1"/>
<rect x="505" y="186" width="8" height="1"/>
<rect x="513" y="187" width="2" height="1"/>
<rect x="515" y="188" width="2" height="1"/>
<rect x="517" y="189" width="4" height="1"/>
<rect x="521" y="190" width="4" height="1"/>
<rect x="525" y="191" width="3" height="1"/>
<rect x="528" y="192" width="3" height="1"/>
<rect x="531" y="193" width="3" height="1"/>
<rect x="534" y="194" width="3" height="1"/>
<rect x="537" y="195" width="2" height="1"/>
<rect x="539" y="196" width="2" height="1"/>
<rect x="541" y="197" width="2" height="1"/>
<rect x="543" y="198" width="2" height="1"/>
<rect x="545" y="199" width="2" height="1"/>
<rect x="547" y="200" width="2" height="1"/>
<rect x="549" y="201" width="3" height="1"/>
<rect x="552" y="202" width="3" height="1"/>
<rect x="555" y="203" width="3" height="1"/>
<rect x="558" y="204" width="3" height="1"/>
<rect x="561" y="205" width="2" height="1"/>
<rect x="563" y="206" width="3" height="1"/>
<rect x="566" y="207" width="2" height="1"/>
<rect x="568" y="208" width="2" height="1"/>
<rect x="570" y="209" width="2" height="1"/>
<rect x="572" y="210" width="3" height="1"/>
<rect x="575" y="211" width="2" height="1"/>
<rect x="577" y="212" width="2" height="1"/>
<rect x="579" y="213" width="2" height="1"/>
<rect x="581" y="214" width="3" height="1"/>
<rect x="584" y="215" width="3" height="1"/>
<rect x="587" y="216" width="3" height="1"/>
<rect x="590" y="217" width="3" height="1"/>
<rect x="593" y="218" width="2" height="1"/>
<rect x="595" y="219" width="3" height="1"/>
<rect x="598" y="220" width="2" height="1"/>
<rect x="600" y="221" width="3" height="1"/>
<rect x="603" y="222" width="2" height="1"/>
<rect x="605" y="223" width="3" height="1"/>
<rect x="608" y="224" width="2" height="1"/>
<rect x="610" y="225" width="2" height="1"/>
<rect x="612" y="226" width="2" height="1"/>
<rect x="614" y="227" width="2" height="1"/>
<rect x="616" y="228" width="2" height="1"/>
<rect x="618" y="229" width="2" height="1"/>
<rect x="620" y="230" width="2" height="1"/>
<rect x="622" y="231" width="2" height="1"/>
<rect x="624" y="232" width="2" height="1"/>
<rect x="626" y="233" width="2" height="1"/>
<rect x="628" y="234" width="2" height="1"/>
<rect x="630" y="235" width="3" height="1"/>
<rect x="633" y="236" width="2" height="1"/>
<rect x="635" y="237" width="2" height="1"/>
<rect x="637" y="238" width="2" height="1"/>
<rect x="639" y="239" width="3" height="1"/>
<rect x="642" y="240" width="2" height="1"/>
<rect x="644" y="241" width="3" height="1"/>
<rect x="647" y="242" width="2" height="1"/>
<rect x="649" y="243" width="5" height="1"/>
<rect x="654" y="244" width="7" height="1"/>
<rect x="661" y="245" width="9" height="1"/>
<rect x="670" y="246" width="9" height="1"/>
<rect x="679" y="247" width="7" height="1"/>
<rect x="686" y="248" width="2" height="1"/>
<rect x="688" y="249" width="2" height="1"/>
<rect x="690" y="250" width="2" height="1"/>
<rect x="692" y="251" width="2" height="1"/>
<rect x="694" y="252" width="2" height="1"/>
<rect x="696" y="253" width="3" height="1"/>
<rect x="699" y="254" width="2" height="1"/>
<rect x="701" y="255" width="2" height="1"/>
<rect x="703" y="256" width="2" height="1"/>
<rect x="705" y="257" width="3" height="1"/>
<rect x="708" y="258" width="9" height="1"/>
<rect x="717" y="259" width="4" height="1"/>
<rect x="721" y="260" width="3" height="1"/>
<rect x="724" y="261" width="2" height="1"/>
<rect x="726" y="262" width="2" height="1"/>
<rect x="728" y="263" width="3" height="1"/>
</g>
<g fill="#ff0000">
<rect x="42" y="14" width="4" height="2"/>
<rect x="46" y="15" width="3" height="2"/>
<rect x="49" y="16" width="2" height="2"/>
<rect x="51" y="17" width="3" height="2"/>
<rect x="54" y="18" width="3" height="2"/>
<rect x="57" y="19" width="3" height="2"/>
<rect x="60" y="20" width="3" height="2"/>
<rect x="63" y="21" width="3" height="2"/>
<rect x="66" y="22" width="3" height="2"/>
<rect x="69" y="23" width="2" height="2"/>
<rect x="71" y="24" width="3" height="2"/>
<rect x="74" y="25" width="3" height="2"/>
<rect x="77" y="26" width="3" height="2"/>
<rect x="80" y="27" width="3" height="2"/>
<rect x="83" y="28" width="3" height="2"/>
<rect x="86" y="29" width="3" height="2"/>
<rect x="89" y="30" width="2" height="2"/>
<rect x="91" y="31" width="3" height="2"/>
<rect x="94" y="32" width="3" height="2"/>
<rect x="97" y="33" width="3" height="2"/>
<rect x="100" y="34" width="3" height="2"/>
<rect x="103" y="35" width="3" height="2"/>
<rect x="106" y="36" width="3" height="2"/>
<rect x="109" y="37" width="2" height="2"/>
<rect x="111" y="38" width="3" height="2"/>
<rect x="114" y="39" width="3" height="2"/>
<rect x="117" y="40" width="3" height="2"/>
<rect x="120" y="41" width="3" height="2"/>
<rect x="123" y="42" width="3" height="2"/>
<rect x="126" y="43" width="3" height="2"/>
<rect x="129" y="44" width="2" height="2"/>
<rect x="131" y="45" width="3" height="2"/>
<rect x="134" y="46" width="3" height="2"/>
<rect x="137" y="47" width="3" height="2"/>
<rect x="140" y="48" width="3" height="2"/>
<rect x="143" y="49" width="3" height="2"/>
<rect x="146" y="50" width="3" height="2"/>
<rect x="149" y="51" width="2" height="2"/>
<rect x="151" y="52" width="3" height="2"/>
<rect x="154" y="53" width="3" height="2"/>
<rect x="157" y="54" width="3" height="2"/>
<rect x="160" y="55" width="3" height="2"/>
<rect x="163" y="56" width="3" height="2"/>
<rect x="166" y="57" width="3" height="2"/>
<rect x="169" y="58" width="2" height="2"/>
<rect x="171" y="59" width="3" height="2"/>
<rect x="174" y="60" width="3" height="2"/>
<rect x="177" y="61" width="3" height="2"/>
<rect x="180" y="62" width="3" height="2"/>
<rect x="183" y="63" width="3" height="2"/>
<rect x="186" y="64" width="3" height="2"/>
<rect x="189" y="65" width="2" height="2"/>
<rect x="191" y="66" width="3" height="2"/>
<rect x="194" y="67" width="3" height="2"/>
<rect x="197" y="68" width="3" height="2"/>
<rect x="200" y="69" width="3" height="2"/>
<rect x="203" y="70" width="3" height="2"/>
<rect x="206" y="71" width="3" height="2"/>
<rect x="209" y="72" width="2" height="2"/>
<rect x="211" y="73" width="3" height="2"/>
<rect x="214" y="74" width="3" height="2"/>
<rect x="217" y="75" width="3" height="2"/>
<rect x="220" y="76" width="3" height="2"/>
<rect x="223" y="77" width="3" height="2"/>
<rect x="226" y="78" width="3" height="2"/>
<rect x="229" y="79" width="2" height="2"/>
<rect x="231" y="80" width="3" height="2"/>
<rect x="234" y="81" width="3" height="2"/>
<rect x="237" y="82" width="3" height="2"/>
<rect x="240" y="83" width="3" height="2"/>
<rect x="243" y="84" width="3" height="2"/>
<rect x="246" y="85" width="3" height="2"/>
<rect x="249" y="86" width="2" height="2"/>
<rect x="251" y="87" width="3" height="2"/>
<rect x="254" y="88" width="3" height="2"/>
<rect x="257" y="89" width="3" height="2"/>
<rect x="260" y="90" width="3" height="2"/>
<rect x="263" y="91" width="3" height="2"/>
<rect x="266" y="92" width="3" height="2"/>
<rect x="269" y="93" width="2" height="2"/>
<rect x="271" y="94" width="3" height="2"/>
<rect x="274" y="95" width="3" height="2"/>
<rect x="277" y="96" width="3" height="2"/>
<rect x="280" y="97" width="3" height="2"/>
<rect x="283" y="98" width="3" height="2"/>
<rect x="286" y="99" width="3" height="2"/>
<rect x="289" y="100" width="2" height="2"/>
<rect x="291" y="101" width="3" height="2"/>
<rect x="294" y="102" width="3" height="2"/>
<rect x="297" y="103" width="3" height="2"/>
<rect x="300" y="104" width="3" height="2"/>
<rect x="303" y="105" width="3" height="2"/>
<rect x="306" y="106" width="3" height="2"/>
<rect x="309" y="107" width="2" height="2"/>
<rect x="311" y="108" width="3" height="2"/>
<rect x="314" y="109" width="3" height="2"/>
<rect x="317" y="110" width="3" height="2"/>
<rect x="320" y="111" width="3" height="2"/>
<rect x="323" y="112" width="3" height="2"/>
<rect x="326" y="113" width="3" height="2"/>
<rect x="329" y="114" width="2" height="2"/>
<rect x="331" y="115" width="3" height="2"/>
<rect x="334" y="116" width="3" height="2"/>
<rect x="337" y="117" width="3" height="2"/>
<rect x="340" y="118" width="3" height="2"/>
<rect x="343" y="119" width="3" height="2"/>
<rect x="346" y="120" width="3" height="2"/>
<rect x="349" y="121" width="2" height="2"/>
<rect x="351" y="122" width="3" height="2"/>
<rect x="354" y="123" width="3" height="2"/>
<rect x="357" y="124" width="3" height="2"/>
<rect x="360" y="125" width="3" height="2"/>
<rect x="363" y="126" width="3" height="2"/>
<rect x="366" y="127" width="3" height="2"/>
<rect x="369" y="128" width="2" height="2"/>
<rect x="371" y="129" width="3" height="2"/>
<rect x="374" y="130" width="3" height="2"/>
<rect x="377" y="131" width="3" height="2"/>
<rect x="380" y="132" width="3" height="2"/>
<rect x="383" y="133" width="3" height="2"/>
<rect x="386" y="134" width="3" height="2"/>
<rect x="389" y="135" width="2" height="2"/>
<rect x="391" y="136" width="3" height="2"/>
<rect x="394" y="137" width="3" height="2"/>
<rect x="397" y="138" width="3" height="2"/>
<rect x="400" y="139" width="3" height="2"/>
<rect x="403" y="140" width="3" height="2"/>
<rect x="406" y="141" width="3" height="2"/>
<rect x="409" y="142" width="2" height="2"/>
<rect x="411" y="143" width="3" height="2"/>
<rect x="414" y="144" width="3" height="2"/>
<rect x="417" y="145" width="3" height="2"/>
<rect x="420" y="146" width="3" height="2"/>
<rect x="423" y="147" width="3" height="2"/>
<rect x="426" y="148" width="3" height="2"/>
<rect x="429" y="149" width="2" height="2"/>
<rect x="431" y="150" width="3" height="2"/>
<rect x="434" y="151" width="3" height="2"/>
<rect x="437" y="152" width="3" height="2"/>
<rect x="440" y="153" width="3" height="2"/>
<rect x="443" y="154" width="3" height="2"/>
<rect x="446" y="155" width="3" height="2"/>
<rect x="449" y="156" width="2" height="2"/>
<rect x="451" y="157" width="3" height="2"/>
<rect x="454" y="158" width="3" height="2"/>
<rect x="457" y="159" width="3" height="2"/>
<rect x="460" y="160" width="3" height="2"/>
<rect x="463" y="161" width="3" height="2"/>
<rect x="466" y="162" width="3" height="2"/>
<rect x="469" y="163" width="2" height="2"/>
<rect x="471" y="164" width="3" height="2"/>
<rect x="474" y="165" width="3" height="2"/>
<rect x="477" y="166" width="3" height="2"/>
<rect x="480" y="167" width="3" height="2"/>
<rect x="483" y="168" width="3" height="2"/>
<rect x="486" y="169" width="3" height="2"/>
<rect x="489" y="170" width="2" height="2"/>
<rect x="491" y="171" width="3" height="2"/>
<rect x="494" y="172" width="3" height="2"/>
<rect x="497" y="173" width="3" height="2"/>
<rect x="500" y="174" width="3" height="2"/>
<rect x="503" y="175" width="3" height="2"/>
<rect x="506" y="176" width="3" height="2"/>
<rect x="509" y="177" width="2" height="2"/>
<rect x="511" y="178" width="3" height="2"/>
<rect x="514" y="179" width="3" height="2"/>
<rect x="517" y="180" width="3" height="2"/>
<rect x="520" y="181" width="3" height="2"/>
<rect x="523" y="182" width="3" height="2"/>
<rect x="526" y="183" width="3" height="2"/>
<rect x="529" y="184" width="2" height="2"/>
<rect x="531" y="185" width="3" height="2"/>
<rect x="534" y="186" width="3" height="2"/>
<rect x="537" y="187" width="3" height="2"/>
<rect x="540" y="188" width="3" height="2"/>
<rect x="543" y="189" width="3" height="2"/>
<rect x="546" y="190" width="3" height="2"/>
<rect x="549" y="191" width="2" height="2"/>
<rect x="551" y="192" width="3" height="2"/>
<rect x="554" y="193" width="3" height="2"/>
<rect x="557" y="194" width="3" height="2"/>
<rect x="560" y="195" width="3" height="2"/>
<rect x="563" y="196" width="3" height="2"/>
<rect x="566" y="197" width="3" height="2"/>
<rect x="569" y="198" width="2" height="2"/>
<rect x="571" y="199" width="3" height="2"/>
<rect x="574" y="200" width="3" height="2"/>
<rect x="577" y="201" width="3" height="2"/>
<rect x="580" y="202" width="3" height="2"/>
<rect x="583" y="203" width="3" height="2"/>
<rect x="586" y="204" width="3" height="2"/>
<rect x="589" y="205" width="2" height="2"/>
<rect x="591" y="206" width="3" height="2"/>
<rect x="594" y="207" width="3" height="2"/>
<rect x="597" y="208" width="3" height="2"/>
<rect x="600" y="209" width="3" height="2"/>
<rect x="603" y="210" width="3" height="2"/>
<rect x="606" y="211" width="3" height="2"/>
<rect x="609" y="212" width="2" height="2"/>
<rect x="611" y="213" width="3" height="2"/>
<rect x="614" y="214" width="3" height="2"/>
<rect x="617" y="215" width="3" height="2"/>
<rect x="620" y="216" width="3" height="2"/>
<rect x="623" y="217" width="3" height="2"/>
<rect x="626" y="218" width="3" height="2"/>
<rect x="629" y="219" width="2" height="2"/>
<rect x="631" y="220" width="3" height="2"/>
<rect x="634" y="221" width="3" height="2"/>
<rect x="637" y="222" width="3" height="2"/>
<rect x="640" y="223" width="3" height="2"/>
<rect x="643" y="224" width="3" height="2"/>
<rect x="646" y="225" width="3" height="2"/>
<rect x="649" y="226" width="2" height="2"/>
<rect x="651" y="227" width="3" height="2"/>
<rect x="654" y="228" width="3" height="2"/>
<rect x="657" y="229" width="3" height="2"/>
<rect x="660" y="230" width="3" height="2"/>
<rect x="663" y="231" width="3" height="2"/>
<rect x="666" y="232" width="3" height="2"/>
<rect x="669" y="233" width="2" height="2"/>
<rect x="671" y="234" width="3" height="2"/>
<rect x="674" y="235" width="3" height="2"/>
<rect x="677" y="236" width="3" height="2"/>
<rect x="680" y="237" width="3" height="2"/>
<rect x="683" y="238" width="3" height="2"/>
<rect x="686" y="239" width="3" height="2"/>
<rect x="689" y="240" width="2" height="2"/>
<rect x="691" y="241" width="3" height="2"/>
<rect x="694" y="242" width="3" height="2"/>
<rect x="697" y="243" width="3" height="2"/>
<rect x="700" y="244" width="3" height="2"/>
<rect x="703" y="245" width="3" height="2"/>
<rect x="706" y="246" width="3" height="2"/>
<rect x="709" y="247" width="2" height="2"/>
<rect x="711" y="248" width="3" height="2"/>
<rect x="714" y="249" width="3" height="2"/>
<rect x="717" y="250" width="3" height="2"/>
<rect x="720" y="251" width="3" height="2"/>
<rect x="723" y="252" width="3" height="2"/>
<rect x="726" y="253" width="3" height="2"/>
<rect x="729" y="254" width="2" height="2"/>
<rect x="731" y="255" width="3" height="2"/>
<rect x="734" y="256" width="3" height="2"/>
<rect x="737" y="257" width="3" height="2"/>
<rect x="740" y="258" width="3" height="2"/>
<rect x="743" y="259" width="3" height="2"/>
<rect x="746" y="260" width="1" height="2"/>
<rect x="46" y="117" width="4" height="2"/>
<rect x="50" y="118" width="3" height="2"/>
<rect x="53" y="119" width="3" height="2"/>
<rect x="56" y="120" width="3" height="2"/>
<rect x="59" y="121" width="2" height="2"/>
<rect x="61" y="122" width="3" height="2"/>
<rect x="64" y="123" width="3" height="2"/>
<rect x="67" y="124" width="3" height="2"/>
<rect x="70" y="125" width="3" height="2"/>
<rect x="73" y="126" width="3" height="2"/>
<rect x="76" y="127" width="3" height="2"/>
<rect x="79" y="128" width="3" height="2"/>
<rect x="82" y="129" width="2" height="2"/>
<rect x="84" y="130" width="3" height="2"/>
<rect x="87" y="131" width="3" height="2"/>
<rect x="90" y="132" width="3" height="2"/>
<rect x="93" y="133" width="3" height="2"/>
<rect x="96" y="134" width="3" height="2"/>
<rect x="99" y="135" width="3" height="2"/>
<rect x="102" y="136" width="3" height="2"/>
<rect x="105" y="137" width="2" height="2"/>
<rect x="107" y="138" width="3" height="2"/>
<rect x="110" y="139" width="3" height="2"/>
<rect x="113" y="140" width="3" height="2"/>
<rect x="116" y="141" width="3" height="2"/>
<rect x="119" y="142" width="3" height="2"/>
<rect x="122" y="143" width="3" height="2"/>
<rect x="125" y="144" width="3" height="2"/>
<rect x="128" y="145" width="2" height="2"/>
<rect x="130" y="146" width="3" height="2"/>
<rect x="133" y="147" width="3" height="2"/>
<rect x="136" y="148" width="3" height="2"/>
<rect x="139" y="149" width="3" height="2"/>
<rect x="142" y="150" width="3" height="2"/>
<rect x="145" y="151" width="3" height="2"/>
<rect x="148" y="152" width="2" height="2"/>
<rect x="150" y="153" width="3" height="2"/>
<rect x="153" y="154" width="3" height="2"/>
<rect x="156" y="155" width="3" height="2"/>
<rect x="159" y="156" width="3" height="2"/>
<rect x="162" y="157" width="3" height="2"/>
<rect x="165" y="158" width="3" height="2"/>
<rect x="168" y="159" width="3" height="2"/>
<rect x="171" y="160" width="2" height="2"/>
<rect x="173" y="161" width="3" height="2"/>
<rect x="176" y="162" width="3" height="2"/>
<rect x="179" y="163" width="3" height="2"/>
<rect x="182" y="164" width="3" height="2"/>
<rect x="185" y="165" width="3" height="2"/>
<rect x="188" y="166" width="3" height="2"/>
<rect x="191" y="167" width="3" height="2"/>
<rect x="194" y="168" width="2" height="2"/>
<rect x="196" y="169" width="3" height="2"/>
<rect x="199" y="170" width="3" height="2"/>
<rect x="202" y="171" width="3" height="2"/>
<rect x="205" y="172" width="3" height="2"/>
<rect x="208" y="173" width="3" height="2"/>
<rect x="211" y="174" width="3" height="2"/>
<rect x="214" y="175" width="3" height="2"/>
<rect x="217" y="176" width="2" height="2"/>
<rect x="219" y="177" width="3" height="2"/>
<rect x="222" y="178" width="3" height="2"/>
<rect x="225" y="179" width="3" height="2"/>
<rect x="228" y="180" width="3" height="2"/>
<rect x="231" y="181" width="3" height="2"/>
<rect x="234" y="182" width="3" height="2"/>
<rect x="237" y="183" width="3" height="2"/>
<rect x="240" y="184" width="2" height="2"/>
<rect x="242" y="185" width="3" height="2"/>
<rect x="245" y="186" width="3" height="2"/>
<rect x="248" y="187" width="3" height="2"/>
<rect x="251" y="188" width="3" height="2"/>
<rect x="254" y="189" width="3" height="2"/>
<rect x="257" y="190" width="3" height="2"/>
<rect x="260" y="191" width="3" height="2"/>
<rect x="263" y="192" width="2" height="2"/>
<rect x="265" y="193" width="3" height="2"/>
<rect x="268" y="194" width="3" height="2"/>
<rect x="271" y="195" width="3" height="2"/>
<rect x="274" y="196" width="3" height="2"/>
<rect x="277" y="197" width="3" height="2"/>
<rect x="280" y="198" width="3" height="2"/>
<rect x="283" y="199" width="3" height="2"/>
<rect x="286" y="200" width="2" height="2"/>
<rect x="288" y="201" width="3" height="2"/>
<rect x="291" y="202" width="3" height="2"/>
<rect x="294" y="203" width="3" height="2"/>
<rect x="297" y="204" width="3" height="2"/>
<rect x="300" y="205" width="3" height="2"/>
<rect x="303" y="206" width="3" height="2"/>
<rect x="306" y="207" width="3" height="2"/>
<rect x="309" y="208" width="2" height="2"/>
<rect x="311" y="209" width="3" height="2"/>
<rect x="314" y="210" width="3" height="2"/>
<rect x="317" y="211" width="3" height="2"/>
<rect x="320" y="212" width="3" height="2"/>
<rect x="323" y="213" width="3" height="2"/>
<rect x="326" y="214" width="3" height="2"/>
<rect x="329" y="215" width="3" height="2"/>
<rect x="332" y="216" width="2" height="2"/>
<rect x="334" y="217" width="3" height="2"/>
<rect x="337" y="218" width="3" height="2"/>
<rect x="340" y="219" width="3" height="2"/>
<rect x="343" y="220" width="3" height="2"/>
<rect x="346" y="221" width="3" height="2"/>
<rect x="349" y="222" width="3" height="2"/>
<rect x="352" y="223" width="3" height="2"/>
<rect x="355" y="224" width="2" height="2"/>
<rect x="357" y="225" width="3" height="2"/>
<rect x="360" y="226" width="3" height="2"/>
<rect x="363" y="227" width="3" height="2"/>
<rect x="366" y="228" width="3" height="2"/>
<rect x="369" y="229" width="3" height="2"/>
<rect x="372" y="230" width="3" height="2"/>
<rect x="375" y="231" width="3" height="2"/>
<rect x="378" y="232" width="2" height="2"/>
<rect x="380" y="233" width="3" height="2"/>
<rect x="383" y="234" width="3" height="2"/>
<rect x="386" y="235" width="3" height="2"/>
<rect x="389" y="236" width="3" height="2"/>
<rect x="392" y="237" width="3" height="2"/>
<rect x="395" y="238" width="3" height="2"/>
<rect x="398" y="239" width="2" height="2"/>
<rect x="400" y="240" width="3" height="2"/>
<rect x="403" y="241" width="3" height="2"/>
<rect x="406" y="242" width="3" height="2"/>
<rect x="409" y="243" width="3" height="2"/>
<rect x="412" y="244" width="3" height="2"/>
<rect x="415" y="245" width="3" height="2"/>
<rect x="418" y="246" width="3" height="2"/>
<rect x="421" y="247" width="2" height="2"/>
<rect x="423" y="248" width="3" height="2"/>
<rect x="426" y="249" width="3" height="2"/>
<rect x="429" y="250" width="3" height="2"/>
<rect x="432" y="251" width="3" height="2"/>
<rect x="435" y="252" width="3" height="2"/>
<rect x="438" y="253" width="3" height="2"/>
<rect x="441" y="254" width="3" height="2"/>
<rect x="444" y="255" width="2" height="2"/>
<rect x="446" y="256" width="3" height="2"/>
<rect x="449" y="257" width="3" height="2"/>
<rect x="452" y="258" width="3" height="2"/>
<rect x="455" y="259" width="3" height="2"/>
<rect x="458" y="260" width="3" height="2"/>
<rect x="461" y="261" width="3" height="2"/>
<rect x="464" y="262" width="3" height="2"/>
<rect x="467" y="263" width="2" height="2"/>
<rect x="469" y="264" width="3" height="2"/>
<rect x="472" y="265" width="3" height="2"/>
<rect x="475" y="266" width="3" height="2"/>
<rect x="478" y="267" width="3" height="2"/>
<rect x="481" y="268" width="3" height="2"/>
<rect x="484" y="269" width="3" height="2"/>
<rect x="487" y="270" width="3" height="2"/>
<rect x="490" y="271" width="2" height="2"/>
<rect x="492" y="272" width="3" height="2"/>
<rect x="495" y="273" width="3" height="2"/>
<rect x="498" y="274" width="3" height="2"/>
<rect x="501" y="275" width="3" height="2"/>
<rect x="504" y="276" width="3" height="2"/>
<rect x="507" y="277" width="3" height="2"/>
<rect x="510" y="278" width="3" height="2"/>
<rect x="513" y="279" width="2" height="2"/>
<rect x="515" y="280" width="3" height="2"/>
<rect x="518" y="281" width="3" height="2"/>
<rect x="521" y="282" width="3" height="2"/>
<rect x="524" y="283" width="3" height="2"/>
<rect x="527" y="284" width="3" height="2"/>
<rect x="530" y="285" width="3" height="2"/>
<rect x="533" y="286" width="3" height="2"/>
<rect x="536" y="287" width="2" height="2"/>
<rect x="538" y="288" width="3" height="2"/>
<rect x="541" y="289" width="3" height="2"/>
<rect x="544" y="290" width="3" height="2"/>
<rect x="547" y="291" width="3" height="2"/>
<rect x="550" y="292" width="3" height="2"/>
<rect x="553" y="293" width="3" height="2"/>
<rect x="556" y="294" width="3" height="2"/>
<rect x="559" y="295" width="2" height="2"/>
<rect x="561" y="296" width="3" height="2"/>
<rect x="564" y="297" width="3" height="2"/>
<rect x="567" y="298" width="3" height="2"/>
<rect x="570" y="299" width="3" height="2"/>
<rect x="573" y="300" width="3" height="2"/>
<rect x="576" y="301" width="3" height="2"/>
<rect x="579" y="302" width="3" height="2"/>
<rect x="582" y="303" width="2" height="2"/>
<rect x="584" y="304" width="3" height="2"/>
<rect x="587" y="305" width="3" height="2"/>
<rect x="590" y="306" width="3" height="2"/>
<rect x="593" y="307" width="3" height="2"/>
<rect x="596" y="308" width="3" height="2"/>
<rect x="599" y="309" width="3" height="2"/>
<rect x="602" y="310" width="3" height="2"/>
<rect x="605" y="311" width="2" height="2"/>
<rect x="607" y="312" width="3" height="2"/>
<rect x="610" y="313" width="3" height="2"/>
<rect x="613" y="314" width="3" height="2"/>
<rect x="616" y="315" width="3" height="2"/>
<rect x="619" y="316" width="3" height="2"/>
<rect x="622" y="317" width="3" height="2"/>
<rect x="625" y="318" width="3" height="2"/>
<rect x="628" y="319" width="2" height="2"/>
<rect x="630" y="320" width="3" height="2"/>
<rect x="633" y="321" width="3" height="2"/>
<rect x="636" y="322" width="3" height="2"/>
<rect x="639" y="323" width="3" height="2"/>
<rect x="642" y="324" width="3" height="2"/>
<rect x="645" y="325" width="3" height="2"/>
<rect x="648" y="326" width="2" height="2"/>
<rect x="650" y="327" width="3" height="2"/>
<rect x="653" y="328" width="3" height="2"/>
<rect x="656" y="329" width="3" height="2"/>
<rect x="659" y="330" width="3" height="2"/>
<rect x="662" y="331" width="3" height="2"/>
<rect x="665" y="332" width="3" height="2"/>
<rect x="668" y="333" width="3" height="2"/>
<rect x="671" y="334" width="2" height="2"/>
<rect x="673" y="335" width="3" height="2"/>
<rect x="676" y="336" width="3" height="2"/>
<rect x="679" y="337" width="3" height="2"/>
<rect x="682" y="338" width="3" height="2"/>
<rect x="685" y="339" width="3" height="2"/>
<rect x="688" y="340" width="3" height="2"/>
<rect x="691" y="341" width="3" height="2"/>
<rect x="694" y="342" width="2" height="2"/>
<rect x="696" y="343" width="2" height="1"/>
</g>
<line x1="654" y1="230.5" x2="747" y2="230.5" stroke="#d2691e"/>
<line x1="698" y1="338.5" x2="747" y2="338.5" stroke="#d2691e"/>
<g shape-rendering="auto" fill="#fff" stroke-width="1" stroke-linejoin="miter">
<path d="M742.3 208.5 L747.2 213.4 H744.4 V219.5 H740.0 V213.4 H737.4 Z" stroke="#f2d24a" transform="translate(-0.45,0)" stroke-opacity="0.8"/>
<path d="M742.3 208.5 L747.2 213.4 H744.4 V219.5 H740.0 V213.4 H737.4 Z" stroke="#20b8c8" transform="translate(0.45,0)" fill="none" stroke-opacity="0.8"/>
<path d="M742.3 208.5 L747.2 213.4 H744.4 V219.5 H740.0 V213.4 H737.4 Z" stroke="#189018" fill="none" stroke-width="0.8"/>
<path d="M738.4 273.5 H742.6 V279.7 H745.4 L740.6 284.5 L735.6 279.7 H738.4 Z" stroke="#ffa040" transform="translate(-0.45,0)" stroke-opacity="0.8"/>
<path d="M738.4 273.5 H742.6 V279.7 H745.4 L740.6 284.5 L735.6 279.7 H738.4 Z" stroke="#ff40d0" transform="translate(0.45,0)" fill="none" stroke-opacity="0.8"/>
<path d="M738.4 273.5 H742.6 V279.7 H745.4 L740.6 284.5 L735.6 279.7 H738.4 Z" stroke="#ff1010" fill="none" stroke-width="0.9"/>
</g>
<g fill="#000">
<rect x="6" y="363" width="1" height="14"/>
<rect x="10" y="363" width="1" height="14"/>
<rect x="14" y="363" width="1" height="13"/>
<rect x="18" y="363" width="1" height="11"/>
<rect x="22" y="363" width="1" height="5"/>
<rect x="26" y="362" width="1" height="1"/>
<rect x="30" y="362" width="1" height="1"/>
<rect x="34" y="362" width="1" height="1"/>
<rect x="38" y="361" width="1" height="2"/>
<rect x="42" y="361" width="1" height="2"/>
<rect x="46" y="361" width="1" height="2"/>
<rect x="50" y="361" width="1" height="2"/>
<rect x="54" y="362" width="1" height="1"/>
<rect x="58" y="362" width="1" height="1"/>
<rect x="62" y="362" width="1" height="1"/>
<rect x="66" y="362" width="1" height="1"/>
<rect x="70" y="362" width="1" height="1"/>
<rect x="82" y="363" width="1" height="5"/>
<rect x="86" y="363" width="1" height="6"/>
<rect x="90" y="363" width="1" height="8"/>
<rect x="94" y="363" width="1" height="14"/>
<rect x="98" y="363" width="1" height="18"/>
<rect x="102" y="363" width="1" height="22"/>
<rect x="106" y="363" width="1" height="30"/>
<rect x="110" y="363" width="1" height="37"/>
<rect x="114" y="363" width="1" height="42"/>
<rect x="118" y="363" width="1" height="39"/>
<rect x="122" y="363" width="1" height="40"/>
<rect x="126" y="363" width="1" height="42"/>
<rect x="130" y="363" width="1" height="42"/>
<rect x="134" y="363" width="1" height="41"/>
<rect x="138" y="363" width="1" height="36"/>
<rect x="142" y="363" width="1" height="32"/>
<rect x="146" y="363" width="1" height="30"/>
<rect x="150" y="363" width="1" height="28"/>
<rect x="154" y="363" width="1" height="26"/>
<rect x="158" y="363" width="1" height="25"/>
<rect x="162" y="363" width="1" height="25"/>
<rect x="166" y="363" width="1" height="23"/>
<rect x="170" y="363" width="1" height="22"/>
<rect x="174" y="363" width="1" height="19"/>
<rect x="178" y="363" width="1" height="14"/>
<rect x="182" y="363" width="1" height="12"/>
<rect x="186" y="363" width="1" height="11"/>
<rect x="190" y="363" width="1" height="13"/>
<rect x="194" y="363" width="1" height="16"/>
<rect x="198" y="363" width="1" height="19"/>
<rect x="202" y="363" width="1" height="22"/>
<rect x="206" y="363" width="1" height="23"/>
<rect x="210" y="363" width="1" height="24"/>
<rect x="214" y="363" width="1" height="26"/>
<rect x="218" y="363" width="1" height="26"/>
<rect x="222" y="363" width="1" height="27"/>
<rect x="226" y="363" width="1" height="28"/>
<rect x="230" y="363" width="1" height="29"/>
<rect x="234" y="363" width="1" height="30"/>
<rect x="238" y="363" width="1" height="29"/>
<rect x="242" y="363" width="1" height="28"/>
<rect x="246" y="363" width="1" height="28"/>
<rect x="250" y="363" width="1" height="30"/>
<rect x="254" y="363" width="1" height="34"/>
<rect x="258" y="363" width="1" height="38"/>
<rect x="262" y="363" width="1" height="44"/>
<rect x="266" y="363" width="1" height="46"/>
<rect x="270" y="363" width="1" height="48"/>
<rect x="274" y="363" width="1" height="49"/>
<rect x="278" y="363" width="1" height="48"/>
<rect x="282" y="363" width="1" height="47"/>
<rect x="286" y="363" width="1" height="46"/>
<rect x="290" y="363" width="1" height="45"/>
<rect x="294" y="363" width="1" height="45"/>
<rect x="298" y="363" width="1" height="45"/>
<rect x="302" y="363" width="1" height="46"/>
<rect x="306" y="363" width="1" height="47"/>
<rect x="310" y="363" width="1" height="46"/>
<rect x="314" y="363" width="1" height="44"/>
<rect x="318" y="363" width="1" height="43"/>
<rect x="322" y="363" width="1" height="35"/>
<rect x="326" y="363" width="1" height="31"/>
<rect x="330" y="363" width="1" height="24"/>
<rect x="334" y="363" width="1" height="16"/>
<rect x="338" y="363" width="1" height="12"/>
<rect x="342" y="363" width="1" height="7"/>
<rect x="346" y="363" width="1" height="3"/>
<rect x="350" y="361" width="1" height="2"/>
<rect x="354" y="358" width="1" height="5"/>
<rect x="358" y="359" width="1" height="4"/>
<rect x="362" y="357" width="1" height="6"/>
<rect x="366" y="356" width="1" height="7"/>
<rect x="370" y="356" width="1" height="7"/>
<rect x="374" y="356" width="1" height="7"/>
<rect x="378" y="356" width="1" height="7"/>
<rect x="382" y="358" width="1" height="5"/>
<rect x="386" y="363" width="1" height="2"/>
<rect x="390" y="363" width="1" height="10"/>
<rect x="394" y="363" width="1" height="15"/>
<rect x="398" y="363" width="1" height="19"/>
<rect x="402" y="363" width="1" height="19"/>
<rect x="406" y="363" width="1" height="19"/>
<rect x="410" y="363" width="1" height="19"/>
<rect x="414" y="363" width="1" height="18"/>
<rect x="418" y="363" width="1" height="15"/>
<rect x="422" y="363" width="1" height="15"/>
<rect x="426" y="363" width="1" height="14"/>
<rect x="430" y="363" width="1" height="12"/>
<rect x="434" y="363" width="1" height="13"/>
<rect x="438" y="363" width="1" height="14"/>
<rect x="442" y="363" width="1" height="15"/>
<rect x="446" y="363" width="1" height="17"/>
<rect x="450" y="363" width="1" height="18"/>
<rect x="454" y="363" width="1" height="24"/>
<rect x="458" y="363" width="1" height="31"/>
<rect x="462" y="363" width="1" height="37"/>
<rect x="466" y="363" width="1" height="40"/>
<rect x="470" y="363" width="1" height="48"/>
<rect x="474" y="363" width="1" height="52"/>
<rect x="478" y="363" width="1" height="54"/>
<rect x="482" y="363" width="1" height="57"/>
<rect x="486" y="363" width="1" height="56"/>
<rect x="490" y="363" width="1" height="53"/>
<rect x="494" y="363" width="1" height="48"/>
<rect x="498" y="363" width="1" height="44"/>
<rect x="502" y="363" width="1" height="40"/>
<rect x="506" y="363" width="1" height="36"/>
<rect x="510" y="363" width="1" height="33"/>
<rect x="514" y="363" width="1" height="32"/>
<rect x="518" y="363" width="1" height="30"/>
<rect x="522" y="363" width="1" height="27"/>
<rect x="526" y="363" width="1" height="24"/>
<rect x="530" y="363" width="1" height="20"/>
<rect x="534" y="363" width="1" height="20"/>
<rect x="538" y="363" width="1" height="20"/>
<rect x="542" y="363" width="1" height="18"/>
<rect x="546" y="363" width="1" height="16"/>
<rect x="550" y="363" width="1" height="15"/>
<rect x="554" y="363" width="1" height="13"/>
<rect x="558" y="363" width="1" height="9"/>
<rect x="562" y="363" width="1" height="6"/>
<rect x="566" y="363" width="1" height="4"/>
<rect x="570" y="363" width="1" height="6"/>
<rect x="574" y="363" width="1" height="8"/>
<rect x="578" y="363" width="1" height="9"/>
<rect x="582" y="363" width="1" height="12"/>
<rect x="586" y="363" width="1" height="16"/>
<rect x="590" y="363" width="1" height="21"/>
<rect x="594" y="363" width="1" height="25"/>
<rect x="598" y="363" width="1" height="28"/>
<rect x="602" y="363" width="1" height="29"/>
<rect x="606" y="363" width="1" height="30"/>
<rect x="610" y="363" width="1" height="30"/>
<rect x="614" y="363" width="1" height="29"/>
<rect x="618" y="363" width="1" height="27"/>
<rect x="622" y="363" width="1" height="28"/>
<rect x="626" y="363" width="1" height="28"/>
<rect x="630" y="363" width="1" height="28"/>
<rect x="634" y="363" width="1" height="29"/>
<rect x="638" y="363" width="1" height="28"/>
<rect x="642" y="363" width="1" height="23"/>
<rect x="646" y="363" width="1" height="21"/>
<rect x="650" y="363" width="1" height="15"/>
<rect x="654" y="363" width="1" height="16"/>
<rect x="658" y="363" width="1" height="16"/>
<rect x="662" y="363" width="1" height="15"/>
<rect x="666" y="363" width="1" height="14"/>
<rect x="670" y="363" width="1" height="12"/>
<rect x="674" y="363" width="1" height="13"/>
<rect x="678" y="363" width="1" height="16"/>
<rect x="682" y="363" width="1" height="20"/>
<rect x="686" y="363" width="1" height="27"/>
<rect x="690" y="363" width="1" height="35"/>
<rect x="694" y="363" width="1" height="41"/>
<rect x="698" y="363" width="1" height="41"/>
<rect x="702" y="363" width="1" height="38"/>
<rect x="706" y="363" width="1" height="36"/>
<rect x="710" y="363" width="1" height="31"/>
<rect x="714" y="363" width="1" height="24"/>
<rect x="718" y="363" width="1" height="21"/>
<rect x="722" y="363" width="1" height="21"/>
<rect x="726" y="363" width="1" height="23"/>
<rect x="730" y="363" width="1" height="25"/>
</g>
<g fill="#3060e0">
<rect x="2" y="361" width="2" height="2"/>
<rect x="3" y="362" width="2" height="2"/>
<rect x="4" y="363" width="3" height="2"/>
<rect x="6" y="364" width="2" height="2"/>
<rect x="7" y="365" width="3" height="2"/>
<rect x="9" y="366" width="3" height="2"/>
<rect x="11" y="367" width="4" height="2"/>
<rect x="14" y="368" width="5" height="2"/>
<rect x="18" y="369" width="13" height="2"/>
<rect x="30" y="368" width="3" height="2"/>
<rect x="32" y="367" width="4" height="2"/>
<rect x="35" y="366" width="3" height="2"/>
<rect x="37" y="365" width="4" height="2"/>
<rect x="40" y="364" width="3" height="2"/>
<rect x="42" y="363" width="3" height="2"/>
<rect x="44" y="362" width="3" height="2"/>
<rect x="46" y="361" width="3" height="2"/>
</g>
<g fill="#3060e0">
<rect x="81" y="361" width="7" height="2"/>
<rect x="87" y="362" width="4" height="2"/>
<rect x="90" y="363" width="3" height="2"/>
<rect x="92" y="364" width="3" height="2"/>
<rect x="94" y="365" width="2" height="2"/>
<rect x="95" y="366" width="3" height="2"/>
<rect x="97" y="367" width="3" height="2"/>
<rect x="99" y="368" width="2" height="2"/>
<rect x="100" y="369" width="2" height="2"/>
<rect x="101" y="370" width="2" height="2"/>
<rect x="102" y="371" width="2" height="2"/>
<rect x="103" y="372" width="2" height="2"/>
<rect x="104" y="373" width="3" height="2"/>
<rect x="106" y="374" width="2" height="2"/>
<rect x="107" y="375" width="2" height="2"/>
<rect x="108" y="376" width="2" height="2"/>
<rect x="109" y="377" width="2" height="2"/>
<rect x="110" y="378" width="2" height="2"/>
<rect x="111" y="379" width="2" height="2"/>
<rect x="112" y="380" width="2" height="2"/>
<rect x="113" y="381" width="2" height="2"/>
<rect x="114" y="382" width="3" height="2"/>
<rect x="116" y="383" width="2" height="2"/>
<rect x="117" y="384" width="2" height="2"/>
<rect x="118" y="385" width="2" height="2"/>
<rect x="119" y="386" width="2" height="2"/>
<rect x="120" y="387" width="2" height="2"/>
<rect x="121" y="388" width="2" height="2"/>
<rect x="122" y="389" width="2" height="2"/>
<rect x="123" y="390" width="2" height="2"/>
<rect x="124" y="391" width="2" height="2"/>
<rect x="125" y="392" width="2" height="2"/>
<rect x="126" y="393" width="2" height="2"/>
<rect x="127" y="394" width="2" height="2"/>
<rect x="128" y="395" width="2" height="2"/>
<rect x="129" y="396" width="4" height="2"/>
<rect x="132" y="397" width="3" height="2"/>
<rect x="134" y="398" width="3" height="2"/>
<rect x="136" y="399" width="14" height="2"/>
<rect x="149" y="398" width="4" height="2"/>
<rect x="152" y="397" width="4" height="2"/>
<rect x="155" y="396" width="4" height="2"/>
<rect x="158" y="395" width="3" height="2"/>
<rect x="160" y="394" width="3" height="2"/>
<rect x="162" y="393" width="3" height="2"/>
<rect x="164" y="392" width="3" height="2"/>
<rect x="166" y="391" width="3" height="2"/>
<rect x="168" y="390" width="3" height="2"/>
<rect x="170" y="389" width="3" height="2"/>
<rect x="172" y="388" width="3" height="2"/>
<rect x="174" y="387" width="3" height="2"/>
<rect x="176" y="386" width="3" height="2"/>
<rect x="178" y="385" width="3" height="2"/>
<rect x="180" y="384" width="3" height="2"/>
<rect x="182" y="383" width="3" height="2"/>
<rect x="184" y="382" width="3" height="2"/>
<rect x="186" y="381" width="3" height="2"/>
<rect x="188" y="380" width="3" height="2"/>
<rect x="190" y="379" width="5" height="2"/>
<rect x="194" y="378" width="7" height="2"/>
<rect x="200" y="377" width="6" height="2"/>
<rect x="205" y="378" width="5" height="2"/>
<rect x="209" y="379" width="5" height="2"/>
<rect x="213" y="380" width="5" height="2"/>
<rect x="217" y="381" width="3" height="2"/>
<rect x="219" y="382" width="3" height="2"/>
<rect x="221" y="383" width="3" height="2"/>
<rect x="223" y="384" width="3" height="2"/>
<rect x="225" y="385" width="3" height="2"/>
<rect x="227" y="386" width="3" height="2"/>
<rect x="229" y="387" width="10" height="2"/>
<rect x="238" y="388" width="9" height="2"/>
<rect x="246" y="389" width="5" height="2"/>
<rect x="250" y="390" width="5" height="2"/>
<rect x="254" y="391" width="5" height="2"/>
<rect x="258" y="392" width="3" height="2"/>
<rect x="260" y="393" width="3" height="2"/>
<rect x="262" y="394" width="3" height="2"/>
<rect x="264" y="395" width="2" height="2"/>
<rect x="265" y="396" width="3" height="2"/>
<rect x="267" y="397" width="3" height="2"/>
<rect x="269" y="398" width="3" height="2"/>
<rect x="271" y="399" width="3" height="2"/>
<rect x="273" y="400" width="4" height="2"/>
<rect x="276" y="401" width="3" height="2"/>
<rect x="278" y="402" width="3" height="2"/>
<rect x="280" y="403" width="3" height="2"/>
<rect x="282" y="404" width="3" height="2"/>
<rect x="284" y="405" width="4" height="2"/>
<rect x="287" y="406" width="5" height="2"/>
<rect x="291" y="407" width="18" height="2"/>
<rect x="308" y="406" width="7" height="2"/>
<rect x="314" y="405" width="7" height="2"/>
<rect x="320" y="404" width="3" height="2"/>
<rect x="322" y="403" width="4" height="2"/>
<rect x="325" y="402" width="3" height="2"/>
<rect x="327" y="401" width="4" height="2"/>
<rect x="330" y="400" width="2" height="2"/>
<rect x="331" y="399" width="2" height="2"/>
<rect x="332" y="398" width="3" height="2"/>
<rect x="334" y="397" width="2" height="2"/>
<rect x="335" y="396" width="2" height="2"/>
<rect x="336" y="395" width="3" height="2"/>
<rect x="338" y="394" width="2" height="2"/>
<rect x="339" y="393" width="2" height="2"/>
<rect x="340" y="392" width="2" height="2"/>
<rect x="341" y="390" width="2" height="3"/>
<rect x="342" y="389" width="2" height="2"/>
<rect x="343" y="388" width="2" height="2"/>
<rect x="344" y="387" width="2" height="2"/>
<rect x="345" y="386" width="2" height="2"/>
<rect x="346" y="385" width="2" height="2"/>
<rect x="347" y="383" width="2" height="3"/>
<rect x="348" y="382" width="2" height="2"/>
<rect x="349" y="381" width="2" height="2"/>
<rect x="350" y="380" width="2" height="2"/>
<rect x="351" y="379" width="2" height="2"/>
<rect x="352" y="378" width="2" height="2"/>
<rect x="353" y="377" width="2" height="2"/>
<rect x="354" y="376" width="2" height="2"/>
<rect x="355" y="374" width="2" height="3"/>
<rect x="356" y="373" width="2" height="2"/>
<rect x="357" y="372" width="2" height="2"/>
<rect x="358" y="371" width="2" height="2"/>
<rect x="359" y="370" width="2" height="2"/>
<rect x="360" y="369" width="2" height="2"/>
<rect x="361" y="368" width="2" height="2"/>
<rect x="362" y="367" width="2" height="2"/>
<rect x="363" y="366" width="2" height="2"/>
<rect x="364" y="365" width="2" height="2"/>
<rect x="365" y="364" width="3" height="2"/>
<rect x="367" y="363" width="2" height="2"/>
<rect x="368" y="362" width="3" height="2"/>
<rect x="370" y="361" width="3" height="2"/>
<rect x="372" y="360" width="4" height="2"/>
<rect x="375" y="359" width="3" height="2"/>
<rect x="377" y="358" width="3" height="2"/>
<rect x="379" y="357" width="2" height="2"/>
<rect x="380" y="358" width="10" height="2"/>
<rect x="389" y="359" width="3" height="2"/>
<rect x="391" y="360" width="3" height="2"/>
<rect x="393" y="361" width="2" height="2"/>
<rect x="394" y="362" width="3" height="2"/>
<rect x="396" y="363" width="3" height="2"/>
<rect x="398" y="364" width="2" height="2"/>
<rect x="399" y="365" width="3" height="2"/>
<rect x="401" y="366" width="2" height="2"/>
<rect x="402" y="367" width="3" height="2"/>
<rect x="404" y="368" width="3" height="2"/>
<rect x="406" y="369" width="2" height="2"/>
<rect x="407" y="370" width="3" height="2"/>
<rect x="409" y="371" width="2" height="2"/>
<rect x="410" y="372" width="3" height="2"/>
<rect x="412" y="373" width="2" height="2"/>
<rect x="413" y="374" width="3" height="2"/>
<rect x="415" y="375" width="3" height="2"/>
<rect x="417" y="376" width="4" height="2"/>
<rect x="420" y="377" width="20" height="2"/>
<rect x="439" y="376" width="10" height="2"/>
<rect x="448" y="377" width="8" height="2"/>
<rect x="455" y="378" width="4" height="2"/>
<rect x="458" y="379" width="2" height="2"/>
<rect x="459" y="380" width="3" height="2"/>
<rect x="461" y="381" width="2" height="2"/>
<rect x="462" y="382" width="2" height="2"/>
<rect x="463" y="383" width="3" height="2"/>
<rect x="465" y="384" width="2" height="2"/>
<rect x="466" y="385" width="2" height="2"/>
<rect x="467" y="386" width="2" height="2"/>
<rect x="468" y="387" width="2" height="2"/>
<rect x="469" y="388" width="2" height="2"/>
<rect x="470" y="389" width="2" height="2"/>
<rect x="471" y="390" width="2" height="2"/>
<rect x="472" y="391" width="2" height="2"/>
<rect x="473" y="392" width="2" height="2"/>
<rect x="474" y="393" width="2" height="2"/>
<rect x="475" y="394" width="2" height="2"/>
<rect x="476" y="395" width="3" height="2"/>
<rect x="478" y="396" width="2" height="2"/>
<rect x="479" y="397" width="2" height="2"/>
<rect x="480" y="398" width="2" height="3"/>
<rect x="481" y="400" width="2" height="2"/>
<rect x="482" y="401" width="2" height="2"/>
<rect x="483" y="402" width="2" height="2"/>
<rect x="484" y="403" width="2" height="2"/>
<rect x="485" y="404" width="2" height="3"/>
<rect x="486" y="406" width="2" height="2"/>
<rect x="487" y="407" width="2" height="2"/>
<rect x="488" y="408" width="3" height="2"/>
<rect x="490" y="409" width="3" height="2"/>
<rect x="492" y="410" width="3" height="2"/>
<rect x="494" y="411" width="12" height="2"/>
<rect x="505" y="410" width="3" height="2"/>
<rect x="507" y="409" width="3" height="2"/>
<rect x="509" y="408" width="3" height="2"/>
<rect x="511" y="407" width="3" height="2"/>
<rect x="513" y="406" width="3" height="2"/>
<rect x="515" y="405" width="2" height="2"/>
<rect x="516" y="404" width="2" height="2"/>
<rect x="517" y="403" width="2" height="2"/>
<rect x="518" y="402" width="2" height="2"/>
<rect x="519" y="401" width="2" height="2"/>
<rect x="520" y="400" width="2" height="2"/>
<rect x="521" y="399" width="2" height="2"/>
<rect x="522" y="398" width="2" height="2"/>
<rect x="523" y="397" width="2" height="2"/>
<rect x="524" y="396" width="2" height="2"/>
<rect x="525" y="395" width="2" height="2"/>
<rect x="526" y="394" width="3" height="2"/>
<rect x="528" y="393" width="2" height="2"/>
<rect x="529" y="392" width="3" height="2"/>
<rect x="531" y="391" width="3" height="2"/>
<rect x="533" y="390" width="2" height="2"/>
<rect x="534" y="389" width="3" height="2"/>
<rect x="536" y="388" width="3" height="2"/>
<rect x="538" y="387" width="3" height="2"/>
<rect x="540" y="386" width="3" height="2"/>
<rect x="542" y="385" width="3" height="2"/>
<rect x="544" y="384" width="3" height="2"/>
<rect x="546" y="383" width="3" height="2"/>
<rect x="548" y="382" width="4" height="2"/>
<rect x="551" y="381" width="3" height="2"/>
<rect x="553" y="380" width="3" height="2"/>
<rect x="555" y="379" width="3" height="2"/>
<rect x="557" y="378" width="3" height="2"/>
<rect x="559" y="377" width="3" height="2"/>
<rect x="561" y="376" width="4" height="2"/>
<rect x="564" y="375" width="3" height="2"/>
<rect x="566" y="374" width="4" height="2"/>
<rect x="569" y="373" width="3" height="2"/>
<rect x="571" y="372" width="4" height="2"/>
<rect x="574" y="371" width="7" height="2"/>
<rect x="580" y="370" width="6" height="2"/>
<rect x="585" y="371" width="5" height="2"/>
<rect x="589" y="372" width="4" height="2"/>
<rect x="592" y="373" width="3" height="2"/>
<rect x="594" y="374" width="2" height="2"/>
<rect x="595" y="375" width="3" height="2"/>
<rect x="597" y="376" width="2" height="2"/>
<rect x="598" y="377" width="3" height="2"/>
<rect x="600" y="378" width="2" height="2"/>
<rect x="601" y="379" width="3" height="2"/>
<rect x="603" y="380" width="2" height="2"/>
<rect x="604" y="381" width="3" height="2"/>
<rect x="606" y="382" width="3" height="2"/>
<rect x="608" y="383" width="3" height="2"/>
<rect x="610" y="384" width="3" height="2"/>
<rect x="612" y="385" width="3" height="2"/>
<rect x="614" y="386" width="3" height="2"/>
<rect x="616" y="387" width="3" height="2"/>
<rect x="618" y="388" width="5" height="2"/>
<rect x="622" y="389" width="21" height="2"/>
<rect x="642" y="388" width="5" height="2"/>
<rect x="646" y="387" width="5" height="2"/>
<rect x="650" y="386" width="5" height="2"/>
<rect x="654" y="385" width="5" height="2"/>
<rect x="658" y="384" width="3" height="2"/>
<rect x="660" y="383" width="3" height="2"/>
<rect x="662" y="382" width="3" height="2"/>
<rect x="664" y="381" width="3" height="2"/>
<rect x="666" y="380" width="4" height="2"/>
<rect x="669" y="379" width="3" height="2"/>
<rect x="671" y="378" width="3" height="2"/>
<rect x="673" y="377" width="4" height="2"/>
<rect x="676" y="376" width="7" height="2"/>
<rect x="682" y="377" width="3" height="2"/>
<rect x="684" y="378" width="3" height="2"/>
<rect x="686" y="379" width="3" height="2"/>
<rect x="688" y="380" width="3" height="2"/>
<rect x="690" y="381" width="3" height="2"/>
<rect x="692" y="382" width="2" height="2"/>
<rect x="693" y="383" width="3" height="2"/>
<rect x="695" y="384" width="2" height="2"/>
<rect x="696" y="385" width="3" height="2"/>
<rect x="698" y="386" width="2" height="2"/>
<rect x="699" y="387" width="3" height="2"/>
<rect x="701" y="388" width="2" height="2"/>
<rect x="702" y="389" width="3" height="2"/>
<rect x="704" y="390" width="2" height="2"/>
<rect x="705" y="391" width="2" height="2"/>
<rect x="706" y="392" width="3" height="2"/>
<rect x="708" y="393" width="2" height="2"/>
<rect x="709" y="394" width="14" height="2"/>
<rect x="722" y="393" width="4" height="2"/>
<rect x="725" y="392" width="5" height="2"/>
<rect x="729" y="391" width="3" height="2"/>
</g>
<g fill="#1e90ff">
<rect x="2" y="484" width="5" height="2"/>
<rect x="6" y="480" width="2" height="5"/>
<rect x="7" y="476" width="2" height="5"/>
<rect x="8" y="472" width="2" height="5"/>
<rect x="9" y="468" width="2" height="5"/>
<rect x="10" y="467" width="2" height="2"/>
<rect x="11" y="466" width="2" height="2"/>
<rect x="12" y="464" width="2" height="3"/>
<rect x="13" y="463" width="2" height="2"/>
<rect x="14" y="462" width="2" height="2"/>
<rect x="15" y="461" width="2" height="2"/>
<rect x="16" y="460" width="2" height="2"/>
<rect x="17" y="459" width="2" height="2"/>
<rect x="18" y="458" width="2" height="2"/>
<rect x="19" y="456" width="2" height="3"/>
<rect x="20" y="453" width="2" height="4"/>
<rect x="21" y="451" width="2" height="3"/>
<rect x="22" y="448" width="2" height="4"/>
<rect x="23" y="448" width="6" height="2"/>
<rect x="28" y="449" width="3" height="2"/>
<rect x="30" y="450" width="2" height="2"/>
<rect x="31" y="451" width="2" height="2"/>
<rect x="32" y="452" width="2" height="2"/>
<rect x="33" y="453" width="2" height="2"/>
<rect x="34" y="454" width="3" height="2"/>
<rect x="36" y="453" width="7" height="2"/>
<rect x="42" y="454" width="2" height="4"/>
<rect x="43" y="457" width="2" height="4"/>
<rect x="44" y="460" width="2" height="4"/>
<rect x="45" y="463" width="2" height="4"/>
<rect x="46" y="466" width="2" height="2"/>
<rect x="47" y="467" width="2" height="3"/>
<rect x="48" y="469" width="2" height="2"/>
<rect x="49" y="470" width="2" height="3"/>
<rect x="50" y="469" width="2" height="3"/>
<rect x="51" y="467" width="2" height="3"/>
<rect x="52" y="465" width="2" height="3"/>
<rect x="53" y="463" width="2" height="3"/>
<rect x="54" y="463" width="4" height="2"/>
<rect x="57" y="462" width="3" height="2"/>
<rect x="59" y="463" width="3" height="2"/>
<rect x="61" y="464" width="3" height="2"/>
<rect x="63" y="465" width="2" height="2"/>
<rect x="64" y="466" width="2" height="3"/>
<rect x="65" y="468" width="2" height="2"/>
<rect x="66" y="469" width="7" height="2"/>
<rect x="72" y="468" width="3" height="2"/>
<rect x="74" y="467" width="2" height="2"/>
<rect x="75" y="468" width="2" height="2"/>
<rect x="76" y="469" width="2" height="2"/>
<rect x="77" y="470" width="2" height="2"/>
<rect x="78" y="471" width="2" height="4"/>
<rect x="79" y="474" width="2" height="4"/>
<rect x="80" y="477" width="2" height="4"/>
<rect x="81" y="480" width="2" height="4"/>
<rect x="82" y="479" width="2" height="4"/>
<rect x="83" y="475" width="2" height="5"/>
<rect x="84" y="472" width="2" height="4"/>
<rect x="85" y="469" width="2" height="4"/>
<rect x="86" y="470" width="2" height="2"/>
<rect x="87" y="471" width="2" height="2"/>
<rect x="88" y="472" width="2" height="2"/>
<rect x="89" y="473" width="2" height="2"/>
<rect x="90" y="474" width="2" height="3"/>
<rect x="91" y="476" width="2" height="2"/>
<rect x="92" y="477" width="2" height="3"/>
<rect x="93" y="479" width="6" height="2"/>
<rect x="98" y="480" width="2" height="2"/>
<rect x="99" y="481" width="2" height="2"/>
<rect x="100" y="482" width="2" height="2"/>
<rect x="101" y="483" width="2" height="2"/>
<rect x="102" y="484" width="2" height="2"/>
<rect x="103" y="485" width="2" height="2"/>
<rect x="104" y="486" width="2" height="3"/>
<rect x="105" y="488" width="2" height="2"/>
<rect x="106" y="489" width="6" height="2"/>
<rect x="111" y="487" width="2" height="3"/>
<rect x="112" y="485" width="2" height="3"/>
<rect x="113" y="483" width="2" height="3"/>
<rect x="114" y="479" width="2" height="5"/>
<rect x="115" y="475" width="2" height="5"/>
<rect x="116" y="470" width="2" height="6"/>
<rect x="117" y="466" width="2" height="5"/>
<rect x="118" y="467" width="2" height="2"/>
<rect x="119" y="468" width="2" height="3"/>
<rect x="120" y="470" width="2" height="2"/>
<rect x="121" y="471" width="2" height="2"/>
<rect x="122" y="472" width="3" height="2"/>
<rect x="124" y="473" width="2" height="2"/>
<rect x="125" y="474" width="2" height="2"/>
<rect x="126" y="473" width="5" height="2"/>
<rect x="130" y="472" width="3" height="2"/>
<rect x="132" y="471" width="3" height="2"/>
<rect x="134" y="470" width="2" height="2"/>
<rect x="135" y="468" width="2" height="3"/>
<rect x="136" y="467" width="2" height="2"/>
<rect x="137" y="465" width="2" height="3"/>
<rect x="138" y="464" width="2" height="2"/>
<rect x="139" y="462" width="2" height="3"/>
<rect x="140" y="461" width="2" height="2"/>
<rect x="141" y="459" width="2" height="3"/>
<rect x="142" y="460" width="2" height="2"/>
<rect x="143" y="461" width="3" height="2"/>
<rect x="145" y="462" width="2" height="2"/>
<rect x="146" y="463" width="2" height="2"/>
<rect x="147" y="464" width="2" height="2"/>
<rect x="148" y="465" width="9" height="2"/>
<rect x="156" y="466" width="3" height="2"/>
<rect x="158" y="467" width="4" height="2"/>
<rect x="161" y="468" width="4" height="2"/>
<rect x="164" y="469" width="7" height="2"/>
<rect x="170" y="465" width="2" height="5"/>
<rect x="171" y="462" width="2" height="4"/>
<rect x="172" y="458" width="2" height="5"/>
<rect x="173" y="455" width="2" height="4"/>
<rect x="174" y="454" width="2" height="2"/>
<rect x="175" y="452" width="2" height="3"/>
<rect x="176" y="451" width="2" height="2"/>
<rect x="177" y="450" width="2" height="2"/>
<rect x="178" y="451" width="2" height="2"/>
<rect x="179" y="452" width="2" height="5"/>
<rect x="180" y="456" width="2" height="4"/>
<rect x="181" y="459" width="2" height="4"/>
<rect x="182" y="462" width="3" height="2"/>
<rect x="184" y="463" width="3" height="2"/>
<rect x="186" y="464" width="2" height="3"/>
<rect x="187" y="466" width="2" height="3"/>
<rect x="188" y="468" width="2" height="2"/>
<rect x="189" y="469" width="2" height="3"/>
<rect x="190" y="471" width="2" height="2"/>
<rect x="191" y="472" width="2" height="2"/>
<rect x="192" y="473" width="2" height="2"/>
<rect x="193" y="474" width="2" height="2"/>
<rect x="194" y="475" width="2" height="2"/>
<rect x="195" y="476" width="4" height="2"/>
<rect x="198" y="477" width="13" height="2"/>
<rect x="210" y="478" width="2" height="2"/>
<rect x="211" y="479" width="2" height="2"/>
<rect x="212" y="480" width="2" height="2"/>
<rect x="213" y="481" width="2" height="2"/>
<rect x="214" y="478" width="2" height="4"/>
<rect x="215" y="476" width="2" height="3"/>
<rect x="216" y="473" width="2" height="4"/>
<rect x="217" y="471" width="2" height="3"/>
<rect x="218" y="472" width="2" height="2"/>
<rect x="219" y="473" width="2" height="2"/>
<rect x="220" y="474" width="2" height="2"/>
<rect x="221" y="475" width="2" height="2"/>
<rect x="222" y="476" width="2" height="3"/>
<rect x="223" y="477" width="5" height="2"/>
<rect x="227" y="478" width="2" height="2"/>
<rect x="228" y="479" width="7" height="2"/>
<rect x="234" y="476" width="2" height="4"/>
<rect x="235" y="473" width="2" height="4"/>
<rect x="236" y="470" width="2" height="4"/>
<rect x="237" y="467" width="2" height="4"/>
<rect x="238" y="467" width="5" height="2"/>
<rect x="242" y="468" width="2" height="2"/>
<rect x="243" y="469" width="2" height="2"/>
<rect x="244" y="470" width="2" height="3"/>
<rect x="245" y="472" width="2" height="2"/>
<rect x="246" y="473" width="2" height="3"/>
<rect x="247" y="475" width="2" height="3"/>
<rect x="248" y="477" width="2" height="3"/>
<rect x="249" y="479" width="2" height="4"/>
<rect x="250" y="482" width="2" height="2"/>
<rect x="251" y="483" width="2" height="2"/>
<rect x="252" y="484" width="2" height="2"/>
<rect x="253" y="485" width="2" height="2"/>
<rect x="254" y="486" width="2" height="2"/>
<rect x="255" y="487" width="3" height="2"/>
<rect x="257" y="488" width="3" height="2"/>
<rect x="259" y="489" width="3" height="2"/>
<rect x="261" y="490" width="2" height="2"/>
<rect x="262" y="488" width="2" height="3"/>
<rect x="263" y="486" width="2" height="3"/>
<rect x="264" y="484" width="2" height="3"/>
<rect x="265" y="482" width="2" height="3"/>
<rect x="266" y="483" width="3" height="2"/>
<rect x="268" y="484" width="4" height="2"/>
<rect x="271" y="483" width="3" height="2"/>
<rect x="273" y="482" width="2" height="2"/>
<rect x="274" y="478" width="2" height="5"/>
<rect x="275" y="475" width="2" height="4"/>
<rect x="276" y="471" width="2" height="5"/>
<rect x="277" y="467" width="2" height="5"/>
<rect x="278" y="468" width="2" height="3"/>
<rect x="279" y="470" width="2" height="2"/>
<rect x="280" y="471" width="2" height="3"/>
<rect x="281" y="473" width="6" height="2"/>
<rect x="286" y="472" width="3" height="2"/>
<rect x="288" y="471" width="3" height="2"/>
<rect x="290" y="472" width="3" height="2"/>
<rect x="292" y="473" width="3" height="2"/>
<rect x="294" y="474" width="3" height="2"/>
<rect x="296" y="475" width="3" height="2"/>
<rect x="298" y="476" width="2" height="3"/>
<rect x="299" y="478" width="2" height="3"/>
<rect x="300" y="480" width="2" height="2"/>
<rect x="301" y="481" width="2" height="3"/>
<rect x="302" y="482" width="2" height="2"/>
<rect x="303" y="481" width="2" height="2"/>
<rect x="304" y="480" width="2" height="2"/>
<rect x="305" y="479" width="2" height="2"/>
<rect x="306" y="478" width="2" height="2"/>
<rect x="307" y="477" width="2" height="2"/>
<rect x="308" y="476" width="2" height="2"/>
<rect x="309" y="475" width="2" height="2"/>
<rect x="310" y="472" width="2" height="4"/>
<rect x="311" y="469" width="2" height="4"/>
<rect x="312" y="465" width="2" height="5"/>
<rect x="313" y="462" width="2" height="4"/>
<rect x="314" y="463" width="2" height="2"/>
<rect x="315" y="464" width="2" height="3"/>
<rect x="316" y="466" width="2" height="2"/>
<rect x="317" y="467" width="2" height="2"/>
<rect x="318" y="466" width="2" height="2"/>
<rect x="319" y="464" width="2" height="3"/>
<rect x="320" y="462" width="2" height="3"/>
<rect x="321" y="461" width="2" height="2"/>
<rect x="322" y="459" width="2" height="3"/>
<rect x="323" y="459" width="2" height="2"/>
<rect x="324" y="460" width="3" height="2"/>
<rect x="326" y="458" width="2" height="3"/>
<rect x="327" y="456" width="2" height="3"/>
<rect x="328" y="454" width="2" height="3"/>
<rect x="329" y="452" width="2" height="3"/>
<rect x="330" y="452" width="2" height="2"/>
<rect x="331" y="451" width="3" height="2"/>
<rect x="333" y="450" width="2" height="2"/>
<rect x="334" y="451" width="2" height="2"/>
<rect x="335" y="452" width="2" height="2"/>
<rect x="336" y="453" width="2" height="2"/>
<rect x="337" y="454" width="2" height="3"/>
<rect x="338" y="455" width="2" height="2"/>
<rect x="339" y="454" width="3" height="2"/>
<rect x="341" y="453" width="6" height="2"/>
<rect x="346" y="452" width="3" height="2"/>
<rect x="348" y="451" width="2" height="2"/>
<rect x="349" y="450" width="2" height="2"/>
<rect x="350" y="451" width="2" height="2"/>
<rect x="351" y="452" width="2" height="3"/>
<rect x="352" y="454" width="2" height="2"/>
<rect x="353" y="455" width="2" height="3"/>
<rect x="354" y="457" width="2" height="3"/>
<rect x="355" y="459" width="2" height="3"/>
<rect x="356" y="461" width="2" height="3"/>
<rect x="357" y="463" width="2" height="3"/>
<rect x="358" y="462" width="2" height="3"/>
<rect x="359" y="460" width="2" height="3"/>
<rect x="360" y="458" width="2" height="3"/>
<rect x="361" y="457" width="3" height="2"/>
<rect x="363" y="458" width="3" height="2"/>
<rect x="365" y="459" width="2" height="2"/>
<rect x="366" y="460" width="3" height="2"/>
<rect x="368" y="461" width="11" height="2"/>
<rect x="378" y="462" width="2" height="3"/>
<rect x="379" y="464" width="2" height="3"/>
<rect x="380" y="466" width="2" height="4"/>
<rect x="381" y="469" width="2" height="3"/>
<rect x="382" y="471" width="2" height="3"/>
<rect x="383" y="473" width="2" height="2"/>
<rect x="384" y="474" width="2" height="3"/>
<rect x="385" y="476" width="2" height="3"/>
<rect x="386" y="478" width="2" height="2"/>
<rect x="387" y="479" width="2" height="3"/>
<rect x="388" y="481" width="2" height="2"/>
<rect x="389" y="482" width="2" height="3"/>
<rect x="390" y="483" width="5" height="2"/>
<rect x="394" y="482" width="2" height="2"/>
<rect x="395" y="481" width="2" height="2"/>
<rect x="396" y="480" width="2" height="2"/>
<rect x="397" y="478" width="2" height="3"/>
<rect x="398" y="476" width="2" height="3"/>
<rect x="399" y="473" width="2" height="4"/>
<rect x="400" y="469" width="2" height="5"/>
<rect x="401" y="466" width="2" height="4"/>
<rect x="402" y="467" width="2" height="2"/>
<rect x="403" y="468" width="3" height="2"/>
<rect x="405" y="469" width="6" height="2"/>
<rect x="410" y="468" width="3" height="2"/>
<rect x="412" y="467" width="3" height="2"/>
<rect x="414" y="465" width="2" height="3"/>
<rect x="415" y="464" width="2" height="2"/>
<rect x="416" y="463" width="2" height="2"/>
<rect x="417" y="462" width="2" height="2"/>
<rect x="418" y="463" width="2" height="2"/>
<rect x="419" y="464" width="2" height="2"/>
<rect x="420" y="465" width="2" height="2"/>
<rect x="421" y="466" width="2" height="2"/>
<rect x="422" y="465" width="3" height="2"/>
<rect x="424" y="464" width="2" height="2"/>
<rect x="425" y="463" width="2" height="2"/>
<rect x="426" y="462" width="2" height="2"/>
<rect x="427" y="461" width="2" height="2"/>
<rect x="428" y="460" width="2" height="2"/>
<rect x="429" y="459" width="2" height="2"/>
<rect x="430" y="460" width="2" height="3"/>
<rect x="431" y="462" width="2" height="3"/>
<rect x="432" y="464" width="2" height="3"/>
<rect x="433" y="466" width="2" height="3"/>
<rect x="434" y="468" width="2" height="2"/>
<rect x="435" y="469" width="2" height="3"/>
<rect x="436" y="471" width="2" height="3"/>
<rect x="437" y="473" width="2" height="3"/>
<rect x="438" y="473" width="2" height="2"/>
<rect x="439" y="472" width="2" height="2"/>
<rect x="440" y="470" width="2" height="3"/>
<rect x="441" y="469" width="3" height="2"/>
<rect x="443" y="470" width="2" height="2"/>
<rect x="444" y="471" width="2" height="2"/>
<rect x="445" y="472" width="2" height="3"/>
<rect x="446" y="473" width="5" height="2"/>
<rect x="450" y="474" width="2" height="4"/>
<rect x="451" y="477" width="2" height="3"/>
<rect x="452" y="479" width="2" height="4"/>
<rect x="453" y="482" width="2" height="3"/>
<rect x="454" y="484" width="2" height="2"/>
<rect x="455" y="485" width="2" height="2"/>
<rect x="456" y="486" width="2" height="2"/>
<rect x="457" y="487" width="7" height="2"/>
<rect x="463" y="486" width="2" height="2"/>
<rect x="464" y="485" width="2" height="2"/>
<rect x="465" y="484" width="2" height="2"/>
<rect x="466" y="485" width="2" height="2"/>
<rect x="467" y="486" width="2" height="2"/>
<rect x="468" y="487" width="2" height="2"/>
<rect x="469" y="488" width="7" height="2"/>
<rect x="475" y="487" width="4" height="2"/>
<rect x="478" y="486" width="5" height="2"/>
<rect x="482" y="484" width="2" height="3"/>
<rect x="483" y="482" width="2" height="3"/>
<rect x="484" y="479" width="2" height="4"/>
<rect x="485" y="476" width="2" height="4"/>
<rect x="486" y="474" width="2" height="3"/>
<rect x="487" y="472" width="2" height="3"/>
<rect x="488" y="470" width="2" height="3"/>
<rect x="489" y="469" width="2" height="2"/>
<rect x="490" y="467" width="2" height="3"/>
<rect x="491" y="465" width="2" height="3"/>
<rect x="492" y="463" width="2" height="3"/>
<rect x="493" y="461" width="2" height="3"/>
<rect x="494" y="462" width="3" height="2"/>
<rect x="496" y="463" width="2" height="2"/>
<rect x="497" y="464" width="2" height="2"/>
<rect x="498" y="463" width="2" height="2"/>
<rect x="499" y="462" width="2" height="2"/>
<rect x="500" y="461" width="2" height="2"/>
<rect x="501" y="460" width="6" height="2"/>
<rect x="506" y="461" width="5" height="2"/>
<rect x="510" y="462" width="2" height="3"/>
<rect x="511" y="464" width="2" height="4"/>
<rect x="512" y="467" width="2" height="3"/>
<rect x="513" y="469" width="2" height="4"/>
<rect x="514" y="469" width="2" height="3"/>
<rect x="515" y="467" width="2" height="3"/>
<rect x="516" y="465" width="2" height="3"/>
<rect x="517" y="463" width="2" height="3"/>
<rect x="518" y="462" width="4" height="2"/>
<rect x="521" y="461" width="4" height="2"/>
<rect x="524" y="460" width="2" height="2"/>
<rect x="525" y="459" width="3" height="2"/>
<rect x="527" y="458" width="2" height="2"/>
<rect x="528" y="457" width="2" height="2"/>
<rect x="529" y="456" width="2" height="2"/>
<rect x="530" y="457" width="2" height="4"/>
<rect x="531" y="460" width="2" height="3"/>
<rect x="532" y="462" width="2" height="4"/>
<rect x="533" y="465" width="2" height="3"/>
<rect x="534" y="467" width="5" height="2"/>
<rect x="538" y="465" width="2" height="3"/>
<rect x="539" y="463" width="2" height="3"/>
<rect x="540" y="461" width="2" height="3"/>
<rect x="541" y="459" width="2" height="3"/>
<rect x="542" y="460" width="2" height="2"/>
<rect x="543" y="461" width="2" height="3"/>
<rect x="544" y="463" width="2" height="2"/>
<rect x="545" y="464" width="5" height="2"/>
<rect x="549" y="463" width="3" height="2"/>
<rect x="551" y="462" width="3" height="2"/>
<rect x="553" y="461" width="2" height="2"/>
<rect x="554" y="459" width="2" height="3"/>
<rect x="555" y="458" width="2" height="2"/>
<rect x="556" y="456" width="2" height="3"/>
<rect x="557" y="454" width="2" height="3"/>
<rect x="558" y="453" width="2" height="2"/>
<rect x="559" y="452" width="4" height="2"/>
<rect x="562" y="453" width="2" height="2"/>
<rect x="563" y="454" width="2" height="3"/>
<rect x="564" y="456" width="2" height="3"/>
<rect x="565" y="458" width="2" height="3"/>
<rect x="566" y="460" width="2" height="4"/>
<rect x="567" y="463" width="2" height="3"/>
<rect x="568" y="465" width="2" height="4"/>
<rect x="569" y="468" width="2" height="3"/>
<rect x="570" y="469" width="9" height="2"/>
<rect x="578" y="470" width="2" height="3"/>
<rect x="579" y="472" width="2" height="2"/>
<rect x="580" y="473" width="2" height="3"/>
<rect x="581" y="475" width="2" height="2"/>
<rect x="582" y="476" width="2" height="3"/>
<rect x="583" y="477" width="2" height="2"/>
<rect x="584" y="478" width="2" height="2"/>
<rect x="585" y="479" width="2" height="2"/>
<rect x="586" y="480" width="2" height="2"/>
<rect x="587" y="481" width="2" height="2"/>
<rect x="588" y="482" width="2" height="2"/>
<rect x="589" y="483" width="2" height="3"/>
<rect x="590" y="484" width="2" height="2"/>
<rect x="591" y="483" width="2" height="2"/>
<rect x="592" y="482" width="2" height="2"/>
<rect x="593" y="481" width="2" height="2"/>
<rect x="594" y="480" width="6" height="2"/>
<rect x="599" y="479" width="8" height="2"/>
<rect x="606" y="478" width="2" height="2"/>
<rect x="607" y="476" width="2" height="3"/>
<rect x="608" y="475" width="2" height="2"/>
<rect x="609" y="474" width="2" height="2"/>
<rect x="610" y="472" width="2" height="3"/>
<rect x="611" y="471" width="2" height="2"/>
<rect x="612" y="470" width="2" height="2"/>
<rect x="613" y="468" width="2" height="3"/>
<rect x="614" y="467" width="2" height="2"/>
<rect x="615" y="466" width="2" height="2"/>
<rect x="616" y="464" width="2" height="3"/>
<rect x="617" y="463" width="2" height="2"/>
<rect x="618" y="464" width="2" height="4"/>
<rect x="619" y="467" width="2" height="4"/>
<rect x="620" y="470" width="2" height="4"/>
<rect x="621" y="473" width="2" height="4"/>
<rect x="622" y="475" width="2" height="2"/>
<rect x="623" y="474" width="6" height="2"/>
<rect x="628" y="475" width="3" height="2"/>
<rect x="630" y="476" width="3" height="2"/>
<rect x="632" y="477" width="3" height="2"/>
<rect x="634" y="474" width="2" height="4"/>
<rect x="635" y="470" width="2" height="5"/>
<rect x="636" y="467" width="2" height="4"/>
<rect x="637" y="463" width="2" height="5"/>
<rect x="638" y="463" width="3" height="2"/>
<rect x="640" y="462" width="4" height="2"/>
<rect x="643" y="460" width="2" height="3"/>
<rect x="644" y="459" width="2" height="2"/>
<rect x="645" y="457" width="2" height="3"/>
<rect x="646" y="456" width="2" height="2"/>
<rect x="647" y="454" width="2" height="3"/>
<rect x="648" y="453" width="2" height="2"/>
<rect x="649" y="451" width="2" height="3"/>
<rect x="650" y="452" width="2" height="5"/>
<rect x="651" y="456" width="2" height="5"/>
<rect x="652" y="460" width="2" height="5"/>
<rect x="653" y="464" width="2" height="5"/>
<rect x="654" y="467" width="5" height="2"/>
<rect x="658" y="466" width="3" height="2"/>
<rect x="660" y="465" width="3" height="2"/>
<rect x="662" y="464" width="3" height="2"/>
<rect x="664" y="463" width="3" height="2"/>
<rect x="666" y="462" width="6" height="2"/>
<rect x="671" y="463" width="2" height="3"/>
<rect x="672" y="465" width="2" height="3"/>
<rect x="673" y="467" width="2" height="3"/>
<rect x="674" y="469" width="2" height="3"/>
<rect x="675" y="471" width="2" height="4"/>
<rect x="676" y="474" width="2" height="3"/>
<rect x="677" y="476" width="2" height="4"/>
<rect x="678" y="479" width="5" height="2"/>
<rect x="682" y="480" width="2" height="2"/>
<rect x="683" y="481" width="2" height="3"/>
<rect x="684" y="483" width="2" height="3"/>
<rect x="685" y="485" width="2" height="2"/>
<rect x="686" y="486" width="2" height="2"/>
<rect x="687" y="487" width="2" height="2"/>
<rect x="688" y="488" width="3" height="2"/>
<rect x="690" y="489" width="5" height="2"/>
<rect x="694" y="486" width="2" height="4"/>
<rect x="695" y="481" width="2" height="6"/>
<rect x="696" y="476" width="2" height="6"/>
<rect x="697" y="471" width="2" height="6"/>
<rect x="698" y="470" width="2" height="2"/>
<rect x="699" y="468" width="2" height="3"/>
<rect x="700" y="467" width="2" height="2"/>
<rect x="701" y="465" width="2" height="3"/>
<rect x="702" y="465" width="6" height="2"/>
<rect x="707" y="464" width="3" height="2"/>
<rect x="709" y="463" width="2" height="2"/>
<rect x="710" y="460" width="2" height="4"/>
<rect x="711" y="458" width="2" height="3"/>
<rect x="712" y="455" width="2" height="4"/>
<rect x="713" y="453" width="2" height="3"/>
<rect x="714" y="453" width="2" height="2"/>
<rect x="715" y="454" width="2" height="2"/>
<rect x="716" y="455" width="2" height="3"/>
<rect x="717" y="457" width="2" height="3"/>
<rect x="718" y="459" width="2" height="3"/>
<rect x="719" y="461" width="2" height="3"/>
<rect x="720" y="463" width="2" height="3"/>
<rect x="721" y="465" width="2" height="3"/>
<rect x="722" y="467" width="2" height="2"/>
<rect x="723" y="468" width="2" height="2"/>
<rect x="724" y="469" width="2" height="2"/>
<rect x="725" y="470" width="2" height="2"/>
<rect x="726" y="471" width="4" height="2"/>
<rect x="729" y="472" width="2" height="2"/>
</g>
<g fill="#ff0000">
<rect x="5" y="506" width="2" height="20"/>
<rect x="9" y="506" width="2" height="22"/>
<rect x="13" y="506" width="2" height="22"/>
<rect x="17" y="506" width="2" height="21"/>
<rect x="21" y="506" width="2" height="19"/>
<rect x="25" y="506" width="2" height="14"/>
<rect x="89" y="506" width="2" height="11"/>
<rect x="93" y="506" width="2" height="12"/>
<rect x="97" y="506" width="2" height="15"/>
<rect x="101" y="506" width="2" height="18"/>
<rect x="105" y="506" width="2" height="21"/>
<rect x="109" y="506" width="2" height="27"/>
<rect x="113" y="506" width="2" height="33"/>
<rect x="117" y="506" width="2" height="36"/>
<rect x="121" y="506" width="2" height="34"/>
<rect x="125" y="506" width="2" height="35"/>
<rect x="129" y="506" width="2" height="37"/>
<rect x="133" y="506" width="2" height="38"/>
<rect x="137" y="506" width="2" height="38"/>
<rect x="141" y="506" width="2" height="36"/>
<rect x="145" y="506" width="2" height="33"/>
<rect x="149" y="506" width="2" height="32"/>
<rect x="153" y="506" width="2" height="31"/>
<rect x="157" y="506" width="2" height="29"/>
<rect x="161" y="506" width="2" height="30"/>
<rect x="165" y="506" width="2" height="30"/>
<rect x="169" y="506" width="2" height="30"/>
<rect x="173" y="506" width="2" height="30"/>
<rect x="177" y="506" width="2" height="27"/>
<rect x="181" y="506" width="2" height="23"/>
<rect x="185" y="506" width="2" height="23"/>
<rect x="189" y="506" width="2" height="22"/>
<rect x="193" y="506" width="2" height="24"/>
<rect x="197" y="506" width="2" height="27"/>
<rect x="201" y="506" width="2" height="29"/>
<rect x="205" y="506" width="2" height="31"/>
<rect x="209" y="506" width="2" height="33"/>
<rect x="213" y="506" width="2" height="34"/>
<rect x="217" y="506" width="2" height="36"/>
<rect x="221" y="506" width="2" height="36"/>
<rect x="225" y="506" width="2" height="37"/>
<rect x="229" y="506" width="2" height="39"/>
<rect x="233" y="506" width="2" height="40"/>
<rect x="237" y="506" width="2" height="41"/>
<rect x="241" y="506" width="2" height="40"/>
<rect x="245" y="506" width="2" height="40"/>
<rect x="249" y="506" width="2" height="40"/>
<rect x="253" y="506" width="2" height="42"/>
<rect x="257" y="506" width="2" height="46"/>
<rect x="261" y="506" width="2" height="50"/>
<rect x="265" y="506" width="2" height="55"/>
<rect x="269" y="506" width="2" height="57"/>
<rect x="273" y="506" width="2" height="60"/>
<rect x="277" y="506" width="2" height="61"/>
<rect x="281" y="506" width="2" height="60"/>
<rect x="285" y="506" width="2" height="61"/>
<rect x="289" y="506" width="2" height="61"/>
<rect x="293" y="506" width="2" height="60"/>
<rect x="297" y="506" width="2" height="61"/>
<rect x="301" y="506" width="2" height="61"/>
<rect x="305" y="506" width="2" height="64"/>
<rect x="309" y="506" width="2" height="66"/>
<rect x="313" y="506" width="2" height="66"/>
<rect x="317" y="506" width="2" height="64"/>
<rect x="321" y="506" width="2" height="63"/>
<rect x="325" y="506" width="2" height="60"/>
<rect x="329" y="506" width="2" height="58"/>
<rect x="333" y="506" width="2" height="53"/>
<rect x="337" y="506" width="2" height="48"/>
<rect x="341" y="506" width="2" height="45"/>
<rect x="345" y="506" width="2" height="42"/>
<rect x="349" y="506" width="2" height="39"/>
<rect x="353" y="506" width="2" height="35"/>
<rect x="357" y="506" width="2" height="33"/>
<rect x="361" y="506" width="2" height="33"/>
<rect x="365" y="506" width="2" height="31"/>
<rect x="369" y="506" width="2" height="30"/>
<rect x="373" y="506" width="2" height="29"/>
<rect x="377" y="506" width="2" height="28"/>
<rect x="381" y="506" width="2" height="27"/>
<rect x="385" y="506" width="2" height="29"/>
<rect x="389" y="506" width="2" height="32"/>
<rect x="393" y="506" width="2" height="37"/>
<rect x="397" y="506" width="2" height="41"/>
<rect x="401" y="506" width="2" height="43"/>
<rect x="405" y="506" width="2" height="41"/>
<rect x="409" y="506" width="2" height="42"/>
<rect x="413" y="506" width="2" height="41"/>
<rect x="417" y="506" width="2" height="40"/>
<rect x="421" y="506" width="2" height="38"/>
<rect x="425" y="506" width="2" height="38"/>
<rect x="429" y="506" width="2" height="36"/>
<rect x="433" y="506" width="2" height="34"/>
<rect x="437" y="506" width="2" height="33"/>
<rect x="441" y="506" width="2" height="35"/>
<rect x="445" y="506" width="2" height="35"/>
<rect x="449" y="506" width="2" height="36"/>
<rect x="453" y="506" width="2" height="36"/>
<rect x="457" y="506" width="2" height="40"/>
<rect x="461" y="506" width="2" height="45"/>
<rect x="465" y="506" width="2" height="49"/>
<rect x="469" y="506" width="2" height="52"/>
<rect x="473" y="506" width="2" height="57"/>
<rect x="477" y="506" width="2" height="60"/>
<rect x="481" y="506" width="2" height="62"/>
<rect x="485" y="506" width="2" height="65"/>
<rect x="489" y="506" width="2" height="65"/>
<rect x="493" y="506" width="2" height="63"/>
<rect x="497" y="506" width="2" height="59"/>
<rect x="501" y="506" width="2" height="58"/>
<rect x="505" y="506" width="2" height="55"/>
<rect x="509" y="506" width="2" height="53"/>
<rect x="513" y="506" width="2" height="51"/>
<rect x="517" y="506" width="2" height="52"/>
<rect x="521" y="506" width="2" height="50"/>
<rect x="525" y="506" width="2" height="49"/>
<rect x="529" y="506" width="2" height="47"/>
<rect x="533" y="506" width="2" height="45"/>
<rect x="537" y="506" width="2" height="45"/>
<rect x="541" y="506" width="2" height="45"/>
<rect x="545" y="506" width="2" height="42"/>
<rect x="549" y="506" width="2" height="42"/>
<rect x="553" y="506" width="2" height="41"/>
<rect x="557" y="506" width="2" height="40"/>
<rect x="561" y="506" width="2" height="36"/>
<rect x="565" y="506" width="2" height="33"/>
<rect x="569" y="506" width="2" height="32"/>
<rect x="573" y="506" width="2" height="33"/>
<rect x="577" y="506" width="2" height="34"/>
<rect x="581" y="506" width="2" height="34"/>
<rect x="585" y="506" width="2" height="35"/>
<rect x="589" y="506" width="2" height="38"/>
<rect x="593" y="506" width="2" height="42"/>
<rect x="597" y="506" width="2" height="44"/>
<rect x="601" y="506" width="2" height="46"/>
<rect x="605" y="506" width="2" height="47"/>
<rect x="609" y="506" width="2" height="47"/>
<rect x="613" y="506" width="2" height="47"/>
<rect x="617" y="506" width="2" height="46"/>
<rect x="621" y="506" width="2" height="44"/>
<rect x="625" y="506" width="2" height="45"/>
<rect x="629" y="506" width="2" height="45"/>
<rect x="633" y="506" width="2" height="46"/>
<rect x="637" y="506" width="2" height="47"/>
<rect x="641" y="506" width="2" height="45"/>
<rect x="645" y="506" width="2" height="43"/>
<rect x="649" y="506" width="2" height="40"/>
<rect x="653" y="506" width="2" height="36"/>
<rect x="657" y="506" width="2" height="37"/>
<rect x="661" y="506" width="2" height="37"/>
<rect x="665" y="506" width="2" height="37"/>
<rect x="669" y="506" width="2" height="36"/>
<rect x="673" y="506" width="2" height="35"/>
<rect x="677" y="506" width="2" height="35"/>
<rect x="681" y="506" width="2" height="39"/>
<rect x="685" y="506" width="2" height="41"/>
<rect x="689" y="506" width="2" height="46"/>
<rect x="693" y="506" width="2" height="52"/>
<rect x="697" y="506" width="2" height="57"/>
<rect x="701" y="506" width="2" height="57"/>
<rect x="705" y="506" width="2" height="55"/>
<rect x="709" y="506" width="2" height="53"/>
<rect x="713" y="506" width="2" height="51"/>
<rect x="717" y="506" width="2" height="46"/>
<rect x="721" y="506" width="2" height="44"/>
<rect x="725" y="506" width="2" height="44"/>
<rect x="729" y="506" width="2" height="46"/>
</g>
<rect x="6" y="503" width="199" height="14" fill="#fff"/>
<g fill="#000">
<rect x="2" y="2" width="1" height="578" fill="#000"/>
<rect x="2" y="2" width="746" height="1" fill="#000"/>
<rect x="2" y="344" width="746" height="1" fill="#000"/>
<rect x="2" y="346" width="746" height="1" fill="#000"/>
<rect x="2" y="426" width="746" height="1" fill="#000"/>
<rect x="2" y="428" width="746" height="1" fill="#000"/>
<rect x="2" y="500" width="746" height="1" fill="#000"/>
<rect x="2" y="502" width="746" height="1" fill="#000"/>
<rect x="2" y="579" width="746" height="1" fill="#000"/>
<rect x="747" y="2" width="1" height="343" fill="#000"/>
<rect x="747" y="346" width="1" height="234" fill="#000"/>
</g>
<g fill="#000">
<rect x="748" y="24" width="4" height="1" fill="#000"/>
<rect x="748" y="56" width="4" height="1" fill="#000"/>
<rect x="748" y="88" width="4" height="1" fill="#000"/>
<rect x="748" y="120" width="4" height="1" fill="#000"/>
<rect x="748" y="152" width="4" height="1" fill="#000"/>
<rect x="748" y="184" width="4" height="1" fill="#000"/>
<rect x="748" y="216" width="4" height="1" fill="#000"/>
<rect x="748" y="248" width="4" height="1" fill="#000"/>
<rect x="748" y="280" width="4" height="1" fill="#000"/>
<rect x="748" y="312" width="4" height="1" fill="#000"/>
<rect x="748" y="347" width="4" height="1" fill="#000"/>
<rect x="748" y="425" width="4" height="1" fill="#000"/>
<rect x="748" y="429" width="4" height="1" fill="#000"/>
<rect x="748" y="442" width="4" height="1" fill="#000"/>
<rect x="748" y="486" width="4" height="1" fill="#000"/>
<rect x="748" y="499" width="4" height="1" fill="#000"/>
<rect x="748" y="503" width="4" height="1" fill="#000"/>
<rect x="748" y="578" width="4" height="1" fill="#000"/>
<rect x="2" y="580" width="1" height="4" fill="#000"/>
<rect x="66" y="580" width="1" height="4" fill="#000"/>
<rect x="130" y="580" width="1" height="4" fill="#000"/>
<rect x="194" y="580" width="1" height="4" fill="#000"/>
<rect x="258" y="580" width="1" height="4" fill="#000"/>
<rect x="322" y="580" width="1" height="4" fill="#000"/>
<rect x="386" y="580" width="1" height="4" fill="#000"/>
<rect x="450" y="580" width="1" height="4" fill="#000"/>
<rect x="514" y="580" width="1" height="4" fill="#000"/>
<rect x="578" y="580" width="1" height="4" fill="#000"/>
<rect x="642" y="580" width="1" height="4" fill="#000"/>
<rect x="706" y="580" width="1" height="4" fill="#000"/>
</g>
<defs><filter id="sh" x="0" y="0" width="100%" height="100%" filterUnits="userSpaceOnUse" primitiveUnits="userSpaceOnUse"><feComponentTransfer><feFuncA type="linear" slope="2.0" intercept="-0.25"/></feComponentTransfer></filter></defs>
<g shape-rendering="auto" text-rendering="geometricPrecision" filter="url(#sh)">
<text transform="translate(753.31,27.8) scale(0.8857,1)" font-size="10" fill="#000" xml:space="preserve">1.14350</text>
<text transform="translate(753.31,59.8) scale(0.8857,1)" font-size="10" fill="#000" xml:space="preserve">1.12415</text>
<text transform="translate(753.31,91.8) scale(0.8857,1)" font-size="10" fill="#000" xml:space="preserve">1.10480</text>
<text transform="translate(753.31,123.8) scale(0.8857,1)" font-size="10" fill="#000" xml:space="preserve">1.08545</text>
<text transform="translate(753.31,155.8) scale(0.8857,1)" font-size="10" fill="#000" xml:space="preserve">1.06610</text>
<text transform="translate(753.31,187.8) scale(0.8857,1)" font-size="10" fill="#000" xml:space="preserve">1.04675</text>
<text transform="translate(753.31,219.8) scale(0.8857,1)" font-size="10" fill="#000" xml:space="preserve">1.02740</text>
<text transform="translate(753.31,251.8) scale(0.8857,1)" font-size="10" fill="#000" xml:space="preserve">1.00805</text>
<text transform="translate(753.60,283.8) scale(0.8778,1)" font-size="10" fill="#000" xml:space="preserve">0.98870</text>
<rect x="750" y="305" width="39" height="11" fill="#c0c0c0" stroke="none" shape-rendering="crispEdges"/>
<g>
<text transform="translate(753.60,313.9) scale(0.8778,1)" font-size="10" fill="#fff" xml:space="preserve">0.97062</text>
</g>
<text transform="translate(752.90,355.1) scale(0.9049,1)" font-size="10" fill="#000" xml:space="preserve">0.004225</text>
<text transform="translate(752.90,366.1) scale(0.8833,1)" font-size="10" fill="#000" xml:space="preserve">0.000000</text>
<text transform="translate(751.97,423.9) scale(0.9318,1)" font-size="10" fill="#000" xml:space="preserve">-0.016104</text>
<text transform="translate(752.58,436.7) scale(0.9172,1)" font-size="10" fill="#000" xml:space="preserve">100.00</text>
<text transform="translate(751.98,445.6) scale(0.9250,1)" font-size="10" fill="#000" xml:space="preserve">80.00</text>
<text transform="translate(751.98,489.8) scale(0.9250,1)" font-size="10" fill="#000" xml:space="preserve">20.00</text>
<text transform="translate(752.90,497.8) scale(0.9000,1)" font-size="10" fill="#000" xml:space="preserve">0.00</text>
<text transform="translate(752.90,509.5) scale(0.9000,1)" font-size="10" fill="#000" xml:space="preserve">0.0</text>
<text transform="translate(752.9,511) scale(0.92,1)" font-size="10" xml:space="preserve">980.0</text>
<text transform="translate(751.95,576.9) scale(0.9531,1)" font-size="10" fill="#000" xml:space="preserve">-6368.9</text>
<text transform="translate(1.09,591.7) scale(0.9050,1)" font-size="10" fill="#000" xml:space="preserve">27 Jan 2022</text>
<text transform="translate(65.89,591.7) scale(0.9050,1)" font-size="10" fill="#000" xml:space="preserve">18 Feb 2022</text>
<text transform="translate(129.90,591.7) scale(0.9050,1)" font-size="10" fill="#000" xml:space="preserve">14 Mar 2022</text>
<text transform="translate(193.66,591.7) scale(0.9362,1)" font-size="10" fill="#000" xml:space="preserve">5 Apr 2022</text>
<text transform="translate(257.24,591.7) scale(0.9577,1)" font-size="10" fill="#000" xml:space="preserve">27 Apr 2022</text>
<text transform="translate(321.64,591.7) scale(0.9571,1)" font-size="10" fill="#000" xml:space="preserve">19 May 2022</text>
<text transform="translate(385.90,591.7) scale(0.9050,1)" font-size="10" fill="#000" xml:space="preserve">10 Jun 2022</text>
<text transform="translate(450.80,591.7) scale(0.9050,1)" font-size="10" fill="#000" xml:space="preserve">4 Jul 2022</text>
<text transform="translate(513.89,591.7) scale(0.9050,1)" font-size="10" fill="#000" xml:space="preserve">26 Jul 2022</text>
<text transform="translate(577.87,591.7) scale(0.9309,1)" font-size="10" fill="#000" xml:space="preserve">17 Aug 2022</text>
<text transform="translate(641.89,591.7) scale(0.9050,1)" font-size="10" fill="#000" xml:space="preserve">8 Sep 2022</text>
<text transform="translate(705.89,591.7) scale(0.9050,1)" font-size="10" fill="#000" xml:space="preserve">30 Sep 2022</text>
<text transform="translate(6.03,12.8) scale(0.9673,1)" font-size="10" fill="#000" xml:space="preserve">EURUSD., Daily:  Euro vs US Dollar</text>
<text transform="translate(5.07,358.8) scale(0.9329,1)" font-size="10" fill="#000" xml:space="preserve">MACD(12,26,9) -0.006177 -0.007188</text>
<text transform="translate(5.05,441) scale(0.9473,1)" font-size="10" fill="#000" xml:space="preserve">RSI(7) 37.59</text>
<text transform="translate(5.07,514.8) scale(0.9271,1)" font-size="10" fill="#000" xml:space="preserve">SCREENER XMASTER FORMULA 0.0 -3985.5</text>
</g>
</svg>
</body></html>
